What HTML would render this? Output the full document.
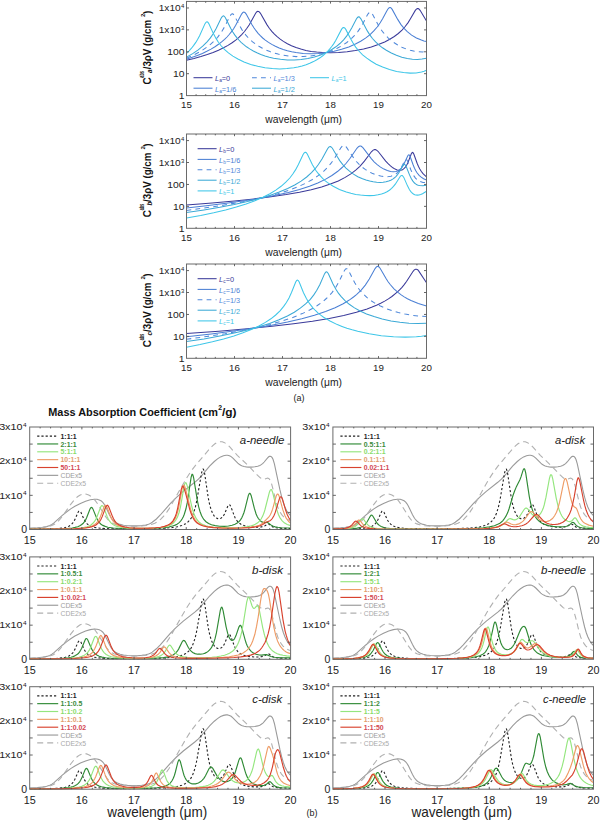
<!DOCTYPE html>
<html><head><meta charset="utf-8"><style>
html,body{margin:0;padding:0;background:#fff;}
svg{display:block;}
</style></head><body>
<svg width="600" height="821" viewBox="0 0 600 821" font-family='"Liberation Sans", sans-serif'>
<rect width="600" height="821" fill="#fff"/>
<clipPath id="ca0"><rect x="186.5" y="1.4" width="240.0" height="94.19999999999999"/></clipPath>
<path clip-path="url(#ca0)" d="M186.5 60.3l7.5 -1.8 6.9 -1.9 6.4 -2.1 5.8 -2.1 5.4 -2.2 5 -2.4 4.5 -2.4 4.1 -2.7 3.6 -2.6 3.2 -2.7 2.8 -2.8 2.8 -3.1 2.4 -3.2 2.4 -3.6 6.2 -11.2 1.1 -1.5 1.1 -0.7 0.7 0.1 0.6 0.3 1.3 1.4 6.6 11.5 2.4 3.6 2.5 3.2 2.6 2.8 2.7 2.5 3.1 2.5 3.2 2.2 4 2.3 4.1 2 4.5 1.8 4.8 1.6 5.1 1.3 5.3 1 5.5 0.7 5.7 0.4 8 0.2 8.2 -0.2 8.5 -0.8 8.3 -1.2 8.2 -1.6 7.7 -2 7 -2.3 6.4 -2.7 5.1 -2.6 4.5 -2.8 4 -3 3.7 -3.4 3.2 -3.6 2.9 -3.9 2.2 -3.6 5 -8.6 1.1 -1.3 1 -0.5 0.6 0 0.7 0.2 1.4 1.5 6.4 10.6" fill="none" stroke="#3a3a9a" stroke-width="1.05"/>
<path clip-path="url(#ca0)" d="M186.5 59.3l10.9 -3.8 5 -2.1 4.4 -2.1 4.2 -2.2 4 -2.4 3.5 -2.4 3.4 -2.6 2.7 -2.3 2.4 -2.4 2.2 -2.5 2.3 -2.8 2.1 -3 2.1 -3.4 5.9 -11.2 1.1 -1.4 0.6 -0.5 0.5 -0.1 0.5 0.1 0.6 0.3 1.3 1.6 5.8 10.7 1.9 3 2.1 2.9 2.1 2.6 2.2 2.4 2.4 2.3 2.6 2.1 3.2 2.3 3.3 2 3.6 1.9 3.8 1.7 4 1.5 4.2 1.2 4.3 1.1 4.3 0.8 7.2 0.8 7.5 0.3 7.7 -0.2 7.9 -0.9 7.8 -1.4 7.5 -1.9 7.2 -2.4 6.6 -2.9 5.3 -2.8 4.8 -3.1 4.3 -3.3 4 -3.9 3.4 -3.9 3 -4.3 2.4 -4 3.9 -7.3 1.3 -2.2 1.1 -1.3 0.9 -0.4 0.5 0.1 0.7 0.3 1.2 1.5 5.5 10 3.3 5.2 3.1 3.8 3.2 3.2 4.3 3.5 4.8 2.9 5 2.1 2.5 0.8 2.6 0.5" fill="none" stroke="#4a7fd4" stroke-width="1.05"/>
<path clip-path="url(#ca0)" d="M186.5 58.2l8.2 -3.7 7.2 -4 6.2 -4.2 2.9 -2.4 2.6 -2.3 4 -4.3 3.5 -4.7 3.7 -6.1 5.2 -10.6 1.2 -1.5 0.6 -0.4 0.5 -0.1 0.5 0 0.6 0.5 1.1 1.5 5.5 10.5 1.9 3.2 1.9 2.8 2.1 2.7 2.1 2.4 2.2 2.2 2.4 2.1 3.1 2.3 3.2 2.1 3.5 2 3.7 1.8 3.8 1.6 4 1.3 4.2 1.2 4.3 0.9 6.9 1.1 7 0.5 7.2 -0.1 7.1 -0.6 7 -1.1 6.9 -1.7 6.6 -2.2 6.1 -2.7 4.9 -2.6 4.7 -3.1 4.1 -3.4 3.7 -3.6 3.2 -3.9 3.1 -4.4 2.2 -3.9 3.7 -7.3 1.3 -2.2 1.1 -1.3 0.9 -0.4 0.5 0.1 0.7 0.4 1.1 1.5 6.1 11.4 2.2 3.6 2.3 3.1 2.4 2.8 2.7 2.8 2.7 2.4 3 2.3 3.9 2.5 4.1 2.2 4.2 1.7 4.3 1.4 4.2 1 4.2 0.5 4 0.1 3.8 -0.3" fill="none" stroke="#4f88da" stroke-width="1.05" stroke-dasharray="4.8 4.2"/>
<path clip-path="url(#ca0)" d="M186.5 57.1l6.2 -3.5 5.5 -3.7 4.8 -4 4.3 -4.3 3.1 -3.7 2.8 -4.2 3.1 -5.4 4.8 -10.1 1.1 -1.6 0.6 -0.5 0.5 -0.2 0.5 0.1 0.5 0.3 1.1 1.4 5.4 10.9 2 3.4 1.9 2.9 2.1 2.7 2.1 2.4 2.2 2.3 2.4 2.1 3 2.4 3.2 2.1 3.6 2.1 3.6 1.8 3.9 1.6 4.2 1.5 4.3 1.3 4.3 1 6.9 1.1 6.9 0.6 6.9 0.1 6.8 -0.5 6.8 -1 6.5 -1.5 6.3 -2.1 5.9 -2.5 4.8 -2.6 4.5 -3 4 -3.3 3.7 -3.7 3 -3.7 2.9 -4.3 2.2 -3.9 4.8 -9.2 1.2 -1.4 0.9 -0.4 0.5 0 0.6 0.5 1.2 1.4 6.4 12.1 2.5 4 2.7 3.6 3.1 3.4 3.2 3 3.7 2.9 3.8 2.5 5 2.7 5.1 2.3 5.4 1.9 5.5 1.3 5.1 0.7 5 0.3 4.6 -0.4 4.5 -0.9" fill="none" stroke="#3ba9d6" stroke-width="1.05"/>
<path clip-path="url(#ca0)" d="M186.5 53.3l2.6 -2.5 2.4 -2.6 2.2 -2.8 2.1 -3 1.9 -3.1 1.9 -3.6 5.3 -11.8 1.1 -1.6 0.5 -0.4 0.5 -0.1 0.5 0.2 0.5 0.4 0.9 1.4 4.5 9.8 2.6 4.8 2.4 3.8 2.5 3.3 3.5 3.9 4 3.5 4.5 3.2 5 2.9 6.1 2.9 6.7 2.5 7 1.9 7.3 1.4 7.3 0.9 7.4 0.3 7.2 -0.3 6.9 -0.8 4.1 -0.8 4.2 -1 4 -1.3 3.7 -1.4 3.7 -1.7 3.3 -1.8 3.2 -2 3.1 -2.3 2.4 -2.1 2.2 -2.1 2.1 -2.4 2.1 -2.6 1.9 -2.7 1.9 -3.2 5.8 -11 1.1 -1.4 0.6 -0.4 0.5 0 1 0.4 1.1 1.4 4.8 9.4 2.3 3.9 2.8 4.4 3.2 3.9 3.7 3.8 4.2 3.4 4.5 3.1 4.9 2.9 6.4 2.9 6.9 2.5 7.1 1.8 7 1.2 6.6 0.5 5.9 -0.2 5.4 -1 2.6 -0.7 2.4 -0.9" fill="none" stroke="#3ec6e8" stroke-width="1.05"/>
<rect x="186.5" y="1.4" width="240.0" height="94.19999999999999" fill="none" stroke="#6a6a6a" stroke-width="1"/>
<path d="M196.10 95.6v-1.4M196.10 1.4v1.4M205.70 95.6v-1.4M205.70 1.4v1.4M215.30 95.6v-1.4M215.30 1.4v1.4M224.90 95.6v-1.4M224.90 1.4v1.4M234.50 95.6v-2.2M234.50 1.4v2.2M244.10 95.6v-1.4M244.10 1.4v1.4M253.70 95.6v-1.4M253.70 1.4v1.4M263.30 95.6v-1.4M263.30 1.4v1.4M272.90 95.6v-1.4M272.90 1.4v1.4M282.50 95.6v-2.2M282.50 1.4v2.2M292.10 95.6v-1.4M292.10 1.4v1.4M301.70 95.6v-1.4M301.70 1.4v1.4M311.30 95.6v-1.4M311.30 1.4v1.4M320.90 95.6v-1.4M320.90 1.4v1.4M330.50 95.6v-2.2M330.50 1.4v2.2M340.10 95.6v-1.4M340.10 1.4v1.4M349.70 95.6v-1.4M349.70 1.4v1.4M359.30 95.6v-1.4M359.30 1.4v1.4M368.90 95.6v-1.4M368.90 1.4v1.4M378.50 95.6v-2.2M378.50 1.4v2.2M388.10 95.6v-1.4M388.10 1.4v1.4M397.70 95.6v-1.4M397.70 1.4v1.4M407.30 95.6v-1.4M407.30 1.4v1.4M416.90 95.6v-1.4M416.90 1.4v1.4M186.5 73.69h2.5M426.5 73.69h-2.5M186.5 51.79h2.5M426.5 51.79h-2.5M186.5 29.88h2.5M426.5 29.88h-2.5M186.5 7.97h2.5M426.5 7.97h-2.5" stroke="#555" stroke-width="0.9" fill="none"/>
<text x="186.50" y="108.00" font-size="9.3" text-anchor="middle" textLength="10.86" lengthAdjust="spacingAndGlyphs" fill="#222">15</text>
<text x="234.50" y="108.00" font-size="9.3" text-anchor="middle" textLength="10.86" lengthAdjust="spacingAndGlyphs" fill="#222">16</text>
<text x="282.50" y="108.00" font-size="9.3" text-anchor="middle" textLength="10.86" lengthAdjust="spacingAndGlyphs" fill="#222">17</text>
<text x="330.50" y="108.00" font-size="9.3" text-anchor="middle" textLength="10.86" lengthAdjust="spacingAndGlyphs" fill="#222">18</text>
<text x="378.50" y="108.00" font-size="9.3" text-anchor="middle" textLength="10.86" lengthAdjust="spacingAndGlyphs" fill="#222">19</text>
<text x="426.50" y="108.00" font-size="9.3" text-anchor="middle" textLength="10.86" lengthAdjust="spacingAndGlyphs" fill="#222">20</text>
<text x="184.40" y="99.00" font-size="9.4" text-anchor="end" textLength="5.75" lengthAdjust="spacingAndGlyphs" fill="#222">1</text>
<text x="184.40" y="77.09" font-size="9.4" text-anchor="end" textLength="11.50" lengthAdjust="spacingAndGlyphs" fill="#222">10</text>
<text x="184.40" y="55.19" font-size="9.4" text-anchor="end" textLength="17.25" lengthAdjust="spacingAndGlyphs" fill="#222">100</text>
<text x="158.70" y="33.28" font-size="9.4" textLength="22.00" lengthAdjust="spacingAndGlyphs" fill="#222">1x10</text>
<text x="180.90" y="30.28" font-size="5.8" textLength="3.30" lengthAdjust="spacingAndGlyphs" fill="#222">3</text>
<text x="158.70" y="11.37" font-size="9.4" textLength="22.00" lengthAdjust="spacingAndGlyphs" fill="#222">1x10</text>
<text x="180.90" y="8.37" font-size="5.8" textLength="3.30" lengthAdjust="spacingAndGlyphs" fill="#222">4</text>
<text x="265.30" y="122.90" font-size="10.5" textLength="76.70" lengthAdjust="spacingAndGlyphs" fill="#222">wavelength (μm)</text>
<g transform="translate(150.8 84.50) rotate(-90)" fill="#111" font-weight="bold"><text x="0" y="0" font-size="10">C</text><text x="6.8" y="-7.0" font-size="7.6" textLength="6.6" lengthAdjust="spacingAndGlyphs">abs</text><text x="11.6" y="1.3" font-size="6.5" font-style="italic">a</text><text x="15.2" y="0" font-size="10" textLength="49.4" lengthAdjust="spacingAndGlyphs">/3ρV (g/cm</text><text x="67.6" y="-6.2" font-size="6">2</text><text x="70.5" y="0" font-size="10">)</text></g>
<clipPath id="ca1"><rect x="186.5" y="134.0" width="240.0" height="94.30000000000001"/></clipPath>
<path clip-path="url(#ca1)" d="M186.5 205l25.6 -2.1 22.3 -2 19.5 -2 17.1 -2.1 15.2 -2.2 13.3 -2.4 11.7 -2.5 10.4 -2.7 8.8 -2.9 7.9 -3.2 6.9 -3.5 6 -3.8 4.5 -3.5 4.2 -3.8 4.5 -5.2 7 -9.3 1.8 -1.7 1.4 -0.5 0.8 0 0.8 0.3 1.8 1.4 7.7 9.8 2.4 2.6 2.4 2.2 2.4 1.9 2.2 1.3 2.1 0.8 1.9 0.4 1.8 -0.1 1.6 -0.5 1.4 -1 1.5 -1.5 1.2 -2 1.2 -2.2 3.5 -9.2 0.8 -1.2 0.3 -0.2 0.3 0.1 0.5 0.4 0.7 1.3 3.3 9.3 1.3 3 1.3 2.4 1.4 2.3 1.6 2.1 1.8 1.9 1.9 1.7" fill="none" stroke="#3a3a9a" stroke-width="1.05"/>
<path clip-path="url(#ca1)" d="M186.5 207.9l21.9 -2.4 19.7 -2.5 17.6 -2.4 15.9 -2.6 14.1 -2.7 12.6 -2.9 11.2 -3 10 -3.2 8.3 -3.3 7.5 -3.5 6.6 -3.9 5.9 -4.2 4.3 -3.8 3.9 -4 4.1 -5.3 6.8 -9.9 1.6 -1.6 0.8 -0.5 0.6 -0.2 0.6 0 0.8 0.3 1.6 1.3 8.4 11 2.8 3.2 3.1 2.8 3.3 2.5 3.4 2 3.4 1.5 3.3 0.9 2.8 0.3 2.5 -0.3 2.3 -0.8 2 -1.4 1.8 -2 1.6 -2.5 4.2 -9.1 0.6 -0.7 0.6 -0.1 0.7 0.7 0.6 1.4 2.8 7.7 1.4 3.5 1.3 2.5 1.4 2.3 1.9 2.4 2.1 1.8 2.4 1.5 2.9 1.3" fill="none" stroke="#4a7fd4" stroke-width="1.05"/>
<path clip-path="url(#ca1)" d="M186.5 210.4l19.4 -2.6 17.4 -2.6 15.9 -2.7 14.2 -2.8 13 -2.9 11.5 -3.1 10.3 -3.2 9.3 -3.5 7.6 -3.5 6.9 -3.7 6.1 -4.1 5.5 -4.4 4 -3.9 3.5 -4.2 3.8 -5.5 6.1 -10.1 1.4 -1.6 0.7 -0.5 0.6 -0.1 0.7 0 0.6 0.3 1.4 1.4 7.3 10.9 2.7 3.5 2.7 2.9 2.9 2.6 3.2 2.4 3.3 2.1 3.6 1.8 2.8 1.2 2.9 0.9 2.9 0.7 2.9 0.5 2.7 0.1 2.4 -0.1 2.3 -0.4 2 -0.7 1.6 -0.8 1.5 -0.9 1.4 -1.2 1.3 -1.4 2.4 -3.5 3.5 -7 0.8 -1 0.7 -0.2 0.8 0.6 0.8 1.5 3 8.1 1.6 3.6 1.5 2.6 1.6 2.2 2.2 2.1 2.4 1.3 2.9 0.9 3.5 0.3" fill="none" stroke="#4f88da" stroke-width="1.05" stroke-dasharray="4.8 4.2"/>
<path clip-path="url(#ca1)" d="M186.5 212.6l17.5 -2.6 15.8 -2.7 14.4 -2.8 13.1 -2.9 11.9 -3 10.6 -3.2 9.4 -3.3 8.5 -3.6 7 -3.5 6.4 -3.9 5.6 -4.1 4.8 -4.3 3.7 -4 3.2 -4.2 3.6 -5.5 5.6 -10.3 1.2 -1.6 1.2 -0.6 0.4 0.1 0.7 0.3 1.3 1.3 5.1 8.8 2.2 3.6 3.1 4 3.2 3.5 3.5 3.1 4 2.9 4.3 2.6 4.7 2.1 3.5 1.2 3.7 1.1 3.5 0.7 3.5 0.5 3.4 0.1 3 -0.1 2.9 -0.5 2.7 -0.7 2.1 -0.9 1.9 -1.1 1.8 -1.3 1.6 -1.5 1.4 -1.7 1.5 -2.1 4 -7.1 0.8 -0.9 0.6 -0.2 0.8 0.6 1 1.6 3.2 8.1 1.7 3.7 1.6 2.6 1.8 2.1 1.1 0.9 1.3 0.8 1.3 0.6 1.4 0.3 3.2 0.2 3.7 -0.6" fill="none" stroke="#3ba9d6" stroke-width="1.05"/>
<path clip-path="url(#ca1)" d="M186.5 218l14.2 -2.6 13 -2.7 11.9 -2.8 10.7 -2.9 9.8 -3.1 8.8 -3.2 8 -3.4 7 -3.6 5.9 -3.6 5.3 -3.8 4.7 -4.1 4 -4.2 3 -4 2.7 -4.1 2.9 -5.4 4.7 -10 1.1 -1.6 0.9 -0.6 0.5 0 0.7 0.4 1.1 1.6 4.9 10.2 3.4 5.7 3.2 4.2 3.7 4 2.4 2.2 2.6 2 5.6 3.7 6.2 3.1 6.9 2.6 4.6 1.3 4.8 1.1 4.8 0.7 4.7 0.4 4.5 0.1 4.3 -0.2 4 -0.6 3.5 -0.9 2.9 -1 2.6 -1.2 2.4 -1.5 2.2 -1.8 1.9 -2 1.8 -2.2 4.9 -7.7 0.8 -0.8 0.8 -0.2 0.5 0.1 0.5 0.4 1 1.4 3.8 8.7 1.9 3.6 1.9 2.6 2 1.7 1.3 0.7 1.2 0.3 1.5 0.1 1.6 -0.2 1.7 -0.5 1.8 -0.7 4 -2.4" fill="none" stroke="#3ec6e8" stroke-width="1.05"/>
<rect x="186.5" y="134.0" width="240.0" height="94.30000000000001" fill="none" stroke="#6a6a6a" stroke-width="1"/>
<path d="M196.10 228.3v-1.4M196.10 134.0v1.4M205.70 228.3v-1.4M205.70 134.0v1.4M215.30 228.3v-1.4M215.30 134.0v1.4M224.90 228.3v-1.4M224.90 134.0v1.4M234.50 228.3v-2.2M234.50 134.0v2.2M244.10 228.3v-1.4M244.10 134.0v1.4M253.70 228.3v-1.4M253.70 134.0v1.4M263.30 228.3v-1.4M263.30 134.0v1.4M272.90 228.3v-1.4M272.90 134.0v1.4M282.50 228.3v-2.2M282.50 134.0v2.2M292.10 228.3v-1.4M292.10 134.0v1.4M301.70 228.3v-1.4M301.70 134.0v1.4M311.30 228.3v-1.4M311.30 134.0v1.4M320.90 228.3v-1.4M320.90 134.0v1.4M330.50 228.3v-2.2M330.50 134.0v2.2M340.10 228.3v-1.4M340.10 134.0v1.4M349.70 228.3v-1.4M349.70 134.0v1.4M359.30 228.3v-1.4M359.30 134.0v1.4M368.90 228.3v-1.4M368.90 134.0v1.4M378.50 228.3v-2.2M378.50 134.0v2.2M388.10 228.3v-1.4M388.10 134.0v1.4M397.70 228.3v-1.4M397.70 134.0v1.4M407.30 228.3v-1.4M407.30 134.0v1.4M416.90 228.3v-1.4M416.90 134.0v1.4M186.5 206.37h2.5M426.5 206.37h-2.5M186.5 184.44h2.5M426.5 184.44h-2.5M186.5 162.51h2.5M426.5 162.51h-2.5M186.5 140.58h2.5M426.5 140.58h-2.5" stroke="#555" stroke-width="0.9" fill="none"/>
<text x="186.50" y="240.70" font-size="9.3" text-anchor="middle" textLength="10.86" lengthAdjust="spacingAndGlyphs" fill="#222">15</text>
<text x="234.50" y="240.70" font-size="9.3" text-anchor="middle" textLength="10.86" lengthAdjust="spacingAndGlyphs" fill="#222">16</text>
<text x="282.50" y="240.70" font-size="9.3" text-anchor="middle" textLength="10.86" lengthAdjust="spacingAndGlyphs" fill="#222">17</text>
<text x="330.50" y="240.70" font-size="9.3" text-anchor="middle" textLength="10.86" lengthAdjust="spacingAndGlyphs" fill="#222">18</text>
<text x="378.50" y="240.70" font-size="9.3" text-anchor="middle" textLength="10.86" lengthAdjust="spacingAndGlyphs" fill="#222">19</text>
<text x="426.50" y="240.70" font-size="9.3" text-anchor="middle" textLength="10.86" lengthAdjust="spacingAndGlyphs" fill="#222">20</text>
<text x="184.40" y="231.70" font-size="9.4" text-anchor="end" textLength="5.75" lengthAdjust="spacingAndGlyphs" fill="#222">1</text>
<text x="184.40" y="209.77" font-size="9.4" text-anchor="end" textLength="11.50" lengthAdjust="spacingAndGlyphs" fill="#222">10</text>
<text x="184.40" y="187.84" font-size="9.4" text-anchor="end" textLength="17.25" lengthAdjust="spacingAndGlyphs" fill="#222">100</text>
<text x="158.70" y="165.91" font-size="9.4" textLength="22.00" lengthAdjust="spacingAndGlyphs" fill="#222">1x10</text>
<text x="180.90" y="162.91" font-size="5.8" textLength="3.30" lengthAdjust="spacingAndGlyphs" fill="#222">3</text>
<text x="158.70" y="143.98" font-size="9.4" textLength="22.00" lengthAdjust="spacingAndGlyphs" fill="#222">1x10</text>
<text x="180.90" y="140.98" font-size="5.8" textLength="3.30" lengthAdjust="spacingAndGlyphs" fill="#222">4</text>
<text x="265.30" y="255.60" font-size="10.5" textLength="76.70" lengthAdjust="spacingAndGlyphs" fill="#222">wavelength (μm)</text>
<g transform="translate(150.8 217.15) rotate(-90)" fill="#111" font-weight="bold"><text x="0" y="0" font-size="10">C</text><text x="6.8" y="-7.0" font-size="7.6" textLength="6.6" lengthAdjust="spacingAndGlyphs">abs</text><text x="11.6" y="1.3" font-size="6.5" font-style="italic">b</text><text x="15.2" y="0" font-size="10" textLength="49.4" lengthAdjust="spacingAndGlyphs">/3ρV (g/cm</text><text x="67.6" y="-6.2" font-size="6">2</text><text x="70.5" y="0" font-size="10">)</text></g>
<clipPath id="ca2"><rect x="186.5" y="264.0" width="240.0" height="94.30000000000001"/></clipPath>
<path clip-path="url(#ca2)" d="M186.5 333.6l32.3 -2.4 28.4 -2.5 24.8 -2.4 21.6 -2.5 18.9 -2.6 16.7 -2.8 14.5 -2.9 12.7 -3.2 10.7 -3.4 5 -1.8 4.4 -1.9 4.2 -2 4 -2.1 3.7 -2.2 3.5 -2.4 5.3 -4.3 2.4 -2.3 2.4 -2.6 2.2 -2.7 2.3 -3.1 6.6 -10.2 1.2 -1.4 1.3 -0.7 0.7 0 0.8 0.2 0.8 0.6 0.9 1.1 7.7 11.6" fill="none" stroke="#3a3a9a" stroke-width="1.05"/>
<path clip-path="url(#ca2)" d="M186.5 336.7l24.8 -2.8 22.3 -2.8 20 -2.9 17.9 -3 16 -3.1 14.3 -3.3 12.6 -3.5 11.2 -3.7 9.5 -3.9 8.1 -4 3.7 -2.2 3.4 -2.1 3.2 -2.4 3 -2.4 4.7 -4.5 4.1 -5 4 -6.1 5.8 -10.4 1.3 -1.6 1.1 -0.6 0.6 0.1 0.7 0.3 1.3 1.4 6.1 10.6 1.9 2.9 2.1 2.8 3.8 4.3 4.3 3.9 2.9 2.2 3 2 3.2 1.9 3.6 1.7 7.3 3 8.2 2.5" fill="none" stroke="#4a7fd4" stroke-width="1.05"/>
<path clip-path="url(#ca2)" d="M186.5 339.3l20.2 -2.8 18.4 -2.8 16.6 -3 14.9 -3.1 13.5 -3.2 12 -3.4 10.7 -3.6 9.5 -3.8 7.8 -3.8 6.9 -4 6.1 -4.4 2.7 -2.4 2.6 -2.4 3.8 -4.3 3.5 -4.9 3.5 -6.1 5 -10.4 1.1 -1.6 0.7 -0.5 0.4 -0.1 0.5 0.1 0.5 0.3 1.1 1.4 4.5 9 1.9 3.6 2.6 4 2.7 3.6 3.1 3.4 3.5 3.3 3.8 3 4.2 2.7 5.1 2.7 5.8 2.6 6.1 2.2 6.5 1.9 6.9 1.6 7.1 1.2 7 0.8 7.2 0.4" fill="none" stroke="#4f88da" stroke-width="1.05" stroke-dasharray="4.8 4.2"/>
<path clip-path="url(#ca2)" d="M186.5 341.6l17.5 -2.7 15.8 -2.9 14.4 -2.9 13.1 -3.1 11.7 -3.2 10.6 -3.4 9.4 -3.6 8.4 -3.8 6.9 -3.7 6 -4.1 5.3 -4.3 4.7 -4.6 3.5 -4.4 3 -4.7 3.1 -5.8 4.6 -10.5 1 -1.5 0.5 -0.4 0.4 -0.1 0.5 0.1 0.5 0.3 1.1 1.7 4.5 9.9 2.9 5.3 2.5 4 2.8 3.4 3.8 4 4.3 3.7 4.8 3.3 5.5 3.1 6.9 3.2 7.5 2.7 8.2 2.4 8.8 1.9 8.9 1.4 9.1 0.9 8.9 0.3 8.6 -0.2" fill="none" stroke="#3ba9d6" stroke-width="1.05"/>
<path clip-path="url(#ca2)" d="M186.5 347.3l13.6 -2.7 12.3 -2.8 11.2 -2.9 10.3 -3 9.1 -3.1 8.3 -3.2 7.6 -3.6 6.5 -3.6 5.5 -3.6 4.8 -3.8 4.3 -4.2 3.7 -4.4 2.7 -3.9 2.6 -4.5 2.5 -5.5 4.2 -10.5 1 -1.6 0.8 -0.4 0.8 0.5 0.9 1.6 4.3 10.7 2.9 5.8 3.2 5.1 3.5 4.4 2.3 2.4 2.5 2.4 2.8 2.2 2.9 2.1 6.4 3.8 7.3 3.6 4.7 1.8 4.9 1.8 5.3 1.6 5.5 1.5 11.5 2.5 12.1 1.9 12.2 1.1 11.7 0.3 5.6 -0.1 5.5 -0.3 5.2 -0.5 5 -0.7" fill="none" stroke="#3ec6e8" stroke-width="1.05"/>
<rect x="186.5" y="264.0" width="240.0" height="94.30000000000001" fill="none" stroke="#6a6a6a" stroke-width="1"/>
<path d="M196.10 358.3v-1.4M196.10 264.0v1.4M205.70 358.3v-1.4M205.70 264.0v1.4M215.30 358.3v-1.4M215.30 264.0v1.4M224.90 358.3v-1.4M224.90 264.0v1.4M234.50 358.3v-2.2M234.50 264.0v2.2M244.10 358.3v-1.4M244.10 264.0v1.4M253.70 358.3v-1.4M253.70 264.0v1.4M263.30 358.3v-1.4M263.30 264.0v1.4M272.90 358.3v-1.4M272.90 264.0v1.4M282.50 358.3v-2.2M282.50 264.0v2.2M292.10 358.3v-1.4M292.10 264.0v1.4M301.70 358.3v-1.4M301.70 264.0v1.4M311.30 358.3v-1.4M311.30 264.0v1.4M320.90 358.3v-1.4M320.90 264.0v1.4M330.50 358.3v-2.2M330.50 264.0v2.2M340.10 358.3v-1.4M340.10 264.0v1.4M349.70 358.3v-1.4M349.70 264.0v1.4M359.30 358.3v-1.4M359.30 264.0v1.4M368.90 358.3v-1.4M368.90 264.0v1.4M378.50 358.3v-2.2M378.50 264.0v2.2M388.10 358.3v-1.4M388.10 264.0v1.4M397.70 358.3v-1.4M397.70 264.0v1.4M407.30 358.3v-1.4M407.30 264.0v1.4M416.90 358.3v-1.4M416.90 264.0v1.4M186.5 336.37h2.5M426.5 336.37h-2.5M186.5 314.44h2.5M426.5 314.44h-2.5M186.5 292.51h2.5M426.5 292.51h-2.5M186.5 270.58h2.5M426.5 270.58h-2.5" stroke="#555" stroke-width="0.9" fill="none"/>
<text x="186.50" y="370.70" font-size="9.3" text-anchor="middle" textLength="10.86" lengthAdjust="spacingAndGlyphs" fill="#222">15</text>
<text x="234.50" y="370.70" font-size="9.3" text-anchor="middle" textLength="10.86" lengthAdjust="spacingAndGlyphs" fill="#222">16</text>
<text x="282.50" y="370.70" font-size="9.3" text-anchor="middle" textLength="10.86" lengthAdjust="spacingAndGlyphs" fill="#222">17</text>
<text x="330.50" y="370.70" font-size="9.3" text-anchor="middle" textLength="10.86" lengthAdjust="spacingAndGlyphs" fill="#222">18</text>
<text x="378.50" y="370.70" font-size="9.3" text-anchor="middle" textLength="10.86" lengthAdjust="spacingAndGlyphs" fill="#222">19</text>
<text x="426.50" y="370.70" font-size="9.3" text-anchor="middle" textLength="10.86" lengthAdjust="spacingAndGlyphs" fill="#222">20</text>
<text x="184.40" y="361.70" font-size="9.4" text-anchor="end" textLength="5.75" lengthAdjust="spacingAndGlyphs" fill="#222">1</text>
<text x="184.40" y="339.77" font-size="9.4" text-anchor="end" textLength="11.50" lengthAdjust="spacingAndGlyphs" fill="#222">10</text>
<text x="184.40" y="317.84" font-size="9.4" text-anchor="end" textLength="17.25" lengthAdjust="spacingAndGlyphs" fill="#222">100</text>
<text x="158.70" y="295.91" font-size="9.4" textLength="22.00" lengthAdjust="spacingAndGlyphs" fill="#222">1x10</text>
<text x="180.90" y="292.91" font-size="5.8" textLength="3.30" lengthAdjust="spacingAndGlyphs" fill="#222">3</text>
<text x="158.70" y="273.98" font-size="9.4" textLength="22.00" lengthAdjust="spacingAndGlyphs" fill="#222">1x10</text>
<text x="180.90" y="270.98" font-size="5.8" textLength="3.30" lengthAdjust="spacingAndGlyphs" fill="#222">4</text>
<text x="265.30" y="385.60" font-size="10.5" textLength="76.70" lengthAdjust="spacingAndGlyphs" fill="#222">wavelength (μm)</text>
<g transform="translate(150.8 347.15) rotate(-90)" fill="#111" font-weight="bold"><text x="0" y="0" font-size="10">C</text><text x="6.8" y="-7.0" font-size="7.6" textLength="6.6" lengthAdjust="spacingAndGlyphs">abs</text><text x="11.6" y="1.3" font-size="6.5" font-style="italic">c</text><text x="15.2" y="0" font-size="10" textLength="49.4" lengthAdjust="spacingAndGlyphs">/3ρV (g/cm</text><text x="67.6" y="-6.2" font-size="6">2</text><text x="70.5" y="0" font-size="10">)</text></g>
<line x1="193.5" y1="77.7" x2="212.5" y2="77.7" stroke="#3a3a9a" stroke-width="1.05"/>
<text x="215.0" y="81.2" font-size="7.4" fill="#3a3a9a"><tspan font-style="italic">L</tspan><tspan font-size="4.8" dy="1">a</tspan><tspan dy="-1">=0</tspan></text>
<line x1="193.5" y1="88.2" x2="212.5" y2="88.2" stroke="#4a7fd4" stroke-width="1.05"/>
<text x="215.0" y="91.7" font-size="7.4" fill="#4a7fd4"><tspan font-style="italic">L</tspan><tspan font-size="4.8" dy="1">a</tspan><tspan dy="-1">=1/6</tspan></text>
<line x1="252" y1="77.7" x2="271" y2="77.7" stroke="#4f88da" stroke-width="1.05" stroke-dasharray="4.8 4.2"/>
<text x="273.5" y="81.2" font-size="7.4" fill="#4f88da"><tspan font-style="italic">L</tspan><tspan font-size="4.8" dy="1">a</tspan><tspan dy="-1">=1/3</tspan></text>
<line x1="252" y1="88.2" x2="271" y2="88.2" stroke="#3ba9d6" stroke-width="1.05"/>
<text x="273.5" y="91.7" font-size="7.4" fill="#3ba9d6"><tspan font-style="italic">L</tspan><tspan font-size="4.8" dy="1">a</tspan><tspan dy="-1">=1/2</tspan></text>
<line x1="310" y1="77.7" x2="329" y2="77.7" stroke="#3ec6e8" stroke-width="1.05"/>
<text x="331.5" y="81.2" font-size="7.4" fill="#3ec6e8"><tspan font-style="italic">L</tspan><tspan font-size="4.8" dy="1">a</tspan><tspan dy="-1">=1</tspan></text>
<line x1="197.6" y1="148.7" x2="216.6" y2="148.7" stroke="#3a3a9a" stroke-width="1.05"/>
<text x="219.1" y="152.2" font-size="7.4" fill="#3a3a9a"><tspan font-style="italic">L</tspan><tspan font-size="4.8" dy="1">b</tspan><tspan dy="-1">=0</tspan></text>
<line x1="197.6" y1="159.4" x2="216.6" y2="159.4" stroke="#4a7fd4" stroke-width="1.05"/>
<text x="219.1" y="162.9" font-size="7.4" fill="#4a7fd4"><tspan font-style="italic">L</tspan><tspan font-size="4.8" dy="1">b</tspan><tspan dy="-1">=1/6</tspan></text>
<line x1="197.6" y1="169.7" x2="216.6" y2="169.7" stroke="#4f88da" stroke-width="1.05" stroke-dasharray="4.8 4.2"/>
<text x="219.1" y="173.2" font-size="7.4" fill="#4f88da"><tspan font-style="italic">L</tspan><tspan font-size="4.8" dy="1">b</tspan><tspan dy="-1">=1/3</tspan></text>
<line x1="197.6" y1="180.2" x2="216.6" y2="180.2" stroke="#3ba9d6" stroke-width="1.05"/>
<text x="219.1" y="183.7" font-size="7.4" fill="#3ba9d6"><tspan font-style="italic">L</tspan><tspan font-size="4.8" dy="1">b</tspan><tspan dy="-1">=1/2</tspan></text>
<line x1="197.6" y1="190.9" x2="216.6" y2="190.9" stroke="#3ec6e8" stroke-width="1.05"/>
<text x="219.1" y="194.4" font-size="7.4" fill="#3ec6e8"><tspan font-style="italic">L</tspan><tspan font-size="4.8" dy="1">b</tspan><tspan dy="-1">=1</tspan></text>
<line x1="197.6" y1="278.7" x2="216.6" y2="278.7" stroke="#3a3a9a" stroke-width="1.05"/>
<text x="219.1" y="282.2" font-size="7.4" fill="#3a3a9a"><tspan font-style="italic">L</tspan><tspan font-size="4.8" dy="1">c</tspan><tspan dy="-1">=0</tspan></text>
<line x1="197.6" y1="289.4" x2="216.6" y2="289.4" stroke="#4a7fd4" stroke-width="1.05"/>
<text x="219.1" y="292.9" font-size="7.4" fill="#4a7fd4"><tspan font-style="italic">L</tspan><tspan font-size="4.8" dy="1">c</tspan><tspan dy="-1">=1/6</tspan></text>
<line x1="197.6" y1="299.7" x2="216.6" y2="299.7" stroke="#4f88da" stroke-width="1.05" stroke-dasharray="4.8 4.2"/>
<text x="219.1" y="303.2" font-size="7.4" fill="#4f88da"><tspan font-style="italic">L</tspan><tspan font-size="4.8" dy="1">c</tspan><tspan dy="-1">=1/3</tspan></text>
<line x1="197.6" y1="310.2" x2="216.6" y2="310.2" stroke="#3ba9d6" stroke-width="1.05"/>
<text x="219.1" y="313.7" font-size="7.4" fill="#3ba9d6"><tspan font-style="italic">L</tspan><tspan font-size="4.8" dy="1">c</tspan><tspan dy="-1">=1/2</tspan></text>
<line x1="197.6" y1="320.9" x2="216.6" y2="320.9" stroke="#3ec6e8" stroke-width="1.05"/>
<text x="219.1" y="324.4" font-size="7.4" fill="#3ec6e8"><tspan font-style="italic">L</tspan><tspan font-size="4.8" dy="1">c</tspan><tspan dy="-1">=1</tspan></text>
<text x="299.00" y="400.50" font-size="9" text-anchor="middle" fill="#222">(a)</text>
<clipPath id="cb0"><rect x="29.7" y="427.0" width="260.90000000000003" height="103.0"/></clipPath>
<path clip-path="url(#cb0)" d="M29.7 528.4l7.6 -0.5 5.5 -0.5 3.9 -0.8 3.1 -1 2.1 -1.1 2.1 -1.6 8.3 -7.5 4.5 -3.6 3.9 -2.9 4.2 -2.6 5.5 -2.9 5.2 -2.2 4.7 -1.4 4.2 -0.6 2.6 0.1 2.1 0.6 1.8 0.9 1.6 1.4 1.3 1.6 1.3 2.1 4.2 8.8 2 3.6 1.3 1.7 1.4 1.3 1.5 1.1 1.9 1 2.6 1 3.4 0.8 3.9 0.5 4.4 0.2 5.2 0 4.7 -0.3 4 -0.6 2.8 -0.8 1.9 -0.8 1.8 -1.1 4.2 -3.3 3.9 -4 10.2 -11.6 6 -6.1 6.8 -6 11.5 -9 3.6 -3.2 3.1 -3.3 8.1 -9.6 4.7 -4.7 3.2 -2.6 3.1 -2 2.9 -1.2 2.6 -0.5 1.3 0 1.3 0.3 1.3 0.5 1.1 0.6 1.8 1.6 4.9 5 1.4 1.1 1.5 1 1.6 0.7 1.8 0.5 2.1 0.4 2.1 0.2 3.1 0 3.4 -0.3 2.9 -0.6 2.1 -0.7 1.5 -0.9 1.6 -1.2 1.3 -1.4 3.2 -3.9 1.3 -1.3 0.7 -0.4 0.8 -0.1 0.8 0.2 0.5 0.4 0.8 1 0.8 1.6 1.3 4.3 5.5 25.9 1.8 7.5 1.6 5.5 1.6 4.3 1.8 3.8 1.8 2.7 2.1 2.2" fill="none" stroke="#9a9a9a" stroke-width="1.1"/>
<path clip-path="url(#cb0)" d="M29.7 528.4l9.9 -0.6 6.8 -0.8 4.7 -1.2 1.8 -0.7 1.9 -1 2.8 -2.3 2.9 -3.2 2.9 -3.8 7.3 -10.5 2.4 -3 2 -2.3 2.4 -2.2 2.3 -1.6 2.4 -0.9 2.1 -0.4 2.3 0.3 2.1 0.8 2.1 1.3 2.4 2 2.1 2.4 2.3 3.1 7.3 11.8 2.4 3.3 1.5 1.8 1.6 1.3 1.6 1 1.8 0.9 3.7 1.1 4.4 0.8 5.7 0.4 6.8 0.1 6.8 -0.3 5.8 -0.6 4.4 -0.9 3.4 -1.2 3.1 -1.8 2.9 -2.3 2.9 -3 3.1 -4.1 2.4 -3.5 2.8 -4.8 10 -17.8 4.4 -7.6 4.4 -6.9 4.5 -5.9 14.1 -16.5 3.1 -3.3 2.1 -1.8 2.1 -1.3 1.8 -0.7 1.8 -0.3 1.9 0.1 1.8 0.6 1.8 1.1 2.1 1.6 2.1 2.1 7.3 8.1 10.5 9.9 9.6 10 2.9 2.6 1.6 1 1.3 0.5 1.5 -0.2 2.9 -1 1.1 0.3 0.7 0.7 1.1 1.7 1 2.8 1.3 4.8 3.4 14 1.6 4.8 1.6 3.7 2.1 3.5 1.3 1.6 1.3 1.3 1.3 1 1.5 1 1.9 0.8 1.8 0.6" fill="none" stroke="#b0b0b0" stroke-width="1.1" stroke-dasharray="6 4"/>
<path clip-path="url(#cb0)" d="M29.7 529.3l16.2 -0.2 10.2 -0.4 6.5 -0.7 2.6 -0.5 2.1 -0.6 1.6 -0.7 1.5 -1 1.3 -1.1 1.1 -1.1 1 -1.5 1.1 -1.9 3.1 -7.1 0.8 -1.2 0.8 -0.3 0.5 0.3 0.8 1 2.6 5.9 1.3 2.5 1.3 1.9 1.3 1.5 1.8 1.4 2.1 1 2.6 0.8 3.2 0.6 7.6 0.7 11.4 0.3 19.4 0 18.3 -0.3 10.1 -0.4 7.6 -0.6 5.8 -0.8 4.4 -1.2 2.1 -0.9 1.8 -0.9 1.6 -1.1 1.5 -1.5 1.4 -1.5 1.3 -2 1 -1.9 1 -2.5 1.9 -5.8 1.5 -6.9 4.7 -27.4 0.8 -2.9 0.5 -1 0.3 -0.1 0.3 0.1 0.5 1.1 0.8 3.4 3.4 23 1 5.5 1.1 4.4 1.3 4 1.3 3 1.5 2.4 1.9 1.8 1.5 0.7 1.6 0.2 1.6 -0.5 1.3 -1 1.3 -1.6 1 -1.8 3.4 -8 0.8 -1 0.5 -0.3 0.8 0.5 0.8 1.4 3.4 9.2 1 2.3 1.1 1.8 1.3 1.7 1.6 1.5 1.8 1.3 2.1 0.9 3.1 1 3.7 0.6 4.4 0.4 4.4 0 2.6 -0.3 2.1 -0.5 1.6 -0.7 2.4 -1.4 1 -0.3 1 0.4 2.1 1.6 1.3 0.9 1.3 0.5 1.6 0.4 5.2 0.5 9.7 0.2" fill="none" stroke="#222222" stroke-width="1.1" stroke-dasharray="2.2 2.1"/>
<path clip-path="url(#cb0)" d="M29.7 529.3l21.7 -0.2 12.8 -0.4 8.1 -0.7 2.8 -0.6 2.7 -0.7 2 -0.9 1.6 -1 1.6 -1.3 1.3 -1.6 1.3 -2 1 -2.2 3.4 -8.7 0.8 -1.2 0.8 -0.4 0.5 0.3 0.8 1.2 3.7 9.1 1.3 2.5 1.3 1.8 1.5 1.7 2.1 1.4 2.4 1 2.6 0.8 5.5 0.8 7.8 0.5 11.8 0.2 13.5 -0.1 9.7 -0.3 7.3 -0.6 5.5 -0.7 4.4 -1.2 1.9 -0.7 1.8 -0.9 1.6 -1.1 1.3 -1.2 1.3 -1.6 1 -1.5 1.1 -2 1 -2.6 1.6 -5.2 1.3 -6.1 3.9 -25.6 0.8 -2.7 0.2 -0.3 0.3 0 0.5 0.8 0.8 3.1 3.7 22.6 1.3 6.1 1.3 4.6 1.5 4 1.1 2 1 1.6 2.4 2.6 2.6 1.8 2.9 1.2 3.6 0.9 4.5 0.6 4.7 0.1 4.1 -0.3 3.7 -0.7 2.9 -1 2.6 -1.5 1.6 -1.4 1.3 -1.6 1.3 -2.1 1 -2.2 1.1 -2.8 1 -3.4 3.4 -13.7 0.8 -1.8 0.5 -0.5 0.3 0 0.5 0.5 0.8 1.9 3.1 12.5 1.8 5.8 1.1 2.4 1 1.9 1.1 1.4 1.3 1.3 1.3 0.9 1.3 0.5 1.3 0.1 2.1 -0.1 1 0.2 0.8 0.4 3.4 2.6 1.6 0.7 1.8 0.6 2.6 0.4 3.4 0.4 9.4 0.3" fill="none" stroke="#2f8a35" stroke-width="1.15"/>
<path clip-path="url(#cb0)" d="M29.7 529.3l26.6 -0.2 15.2 -0.4 9.4 -0.7 3.4 -0.6 2.9 -0.7 2.3 -1 1.8 -1 1.6 -1.4 1.6 -1.8 1.3 -2.1 1 -2.1 3.9 -10.3 0.8 -1.2 0.5 -0.2 0.8 0.4 0.8 1.3 3.7 9.6 1 2.2 1.3 2.1 1.6 1.9 1.5 1.3 1.9 1.1 2.3 0.9 3.9 0.9 5.3 0.7 6.8 0.3 8.6 0.1 8.9 -0.2 7 -0.4 5.5 -0.6 4.2 -1 3.4 -1.3 1.5 -0.9 1.3 -1 1.3 -1.4 1.1 -1.3 1.8 -3.4 1.6 -4.4 1.3 -5.2 3.9 -22.1 0.8 -2.2 0.5 -0.4 0.3 0.1 0.5 0.8 0.8 2.3 4.7 21.2 1.3 4.6 1.3 3.5 1.8 3.6 2.1 2.7 2.4 2 2.8 1.5 2.1 0.8 2.4 0.6 5.7 0.9 7.9 0.5 9.6 0.1 8.4 -0.3 6.8 -0.7 4.9 -1 2.1 -0.7 1.8 -0.8 2.4 -1.5 1.8 -1.7 1.6 -2.1 1.6 -2.9 1.3 -3.3 1 -3.3 4.4 -17.3 0.8 -2 0.6 -0.6 0.2 -0.1 0.3 0.1 0.5 0.6 0.8 2 4.2 17.4 1.5 4.6 1.6 3.4 2.1 3 2.3 2.2 2.9 1.7 3.4 1.1" fill="none" stroke="#94e67e" stroke-width="1.15"/>
<path clip-path="url(#cb0)" d="M29.7 529.3l28.2 -0.2 16.2 -0.4 9.9 -0.7 3.4 -0.6 2.9 -0.7 2.3 -0.9 2.1 -1.3 1.6 -1.3 1.6 -1.9 1.3 -2.1 1.3 -2.7 3.4 -9.2 0.8 -1.4 0.7 -0.6 0.8 0.5 0.8 1.3 3.7 9.6 1 2.2 1.3 2.1 1.6 1.9 1.5 1.3 1.9 1.2 2.1 0.8 3.6 1 4.5 0.6 6 0.4 7.3 0.1 7.8 -0.1 6.8 -0.4 5.2 -0.6 4.2 -0.9 3.4 -1.3 1.6 -1 1.3 -1 2.1 -2.3 1.8 -3.3 1.6 -4.2 1.3 -5.1 3.6 -19.8 0.8 -2.5 0.3 -0.4 0.5 -0.3 0.2 0.1 0.6 0.8 1 2.8 4.7 19.3 1.3 4.3 1.6 4 1.8 3.2 2.1 2.5 2.6 1.9 3.1 1.5 4.8 1.2 6 0.7 8.3 0.5 10.5 0.1 9.6 -0.2 7.6 -0.5 5.5 -0.8 2.3 -0.6 1.9 -0.7 2.3 -1.2 1.8 -1.5 5.3 -5.3 1.5 -2.2 1.3 -2.8 1.1 -3 3.6 -13.2 0.8 -1.6 0.5 -0.4 0.3 0 0.5 0.4 0.8 1.7 3.7 13.6 2.1 5.8 1.3 2.6 1.3 1.9 1.5 1.8 1.6 1.2" fill="none" stroke="#ee9c66" stroke-width="1.15"/>
<path clip-path="url(#cb0)" d="M29.7 529.3l29 -0.2 16.4 -0.4 10.2 -0.7 3.7 -0.6 2.9 -0.7 2.3 -0.8 2.1 -1.2 1.8 -1.6 1.6 -1.8 1.3 -2.1 1.3 -2.8 3.4 -9.1 0.8 -1.4 0.8 -0.6 0.7 0.4 0.8 1.3 3.7 9.6 1 2.2 1.3 2.1 1.3 1.7 1.6 1.4 1.8 1.2 2.1 0.9 3.4 0.9 4.2 0.7 5.5 0.4 6.5 0.1 7.6 -0.1 6.5 -0.3 5.2 -0.6 4 -0.8 3.4 -1.3 1.5 -0.9 1.3 -0.9 1.3 -1.3 1.1 -1.4 1.8 -3.2 1.3 -3.5 1.3 -4.9 3.7 -19.3 0.8 -2.6 0.2 -0.4 0.5 -0.4 0.6 0.4 0.5 0.9 1 2.8 1.3 4.7 3.7 14.5 1.3 4 1.6 3.7 1.8 3 2.3 2.5 2.7 1.7 3.1 1.3 4.7 1.1 6 0.7 8.1 0.4 10.4 0.2 10.5 -0.2 8.1 -0.4 5.7 -0.8 4.2 -1.1 2.4 -1.1 3.9 -2.6 3.4 -1.3 1.3 -1 1 -1.2 1.6 -2.7 1.3 -3.2 4.2 -13.9 0.8 -1.6 0.5 -0.4 0.2 0 0.8 0.7 0.8 1.8 3.1 10.8 1.6 4.5 1.6 3.3 1.8 2.7" fill="none" stroke="#d8422e" stroke-width="1.15"/>
<rect x="29.7" y="427.0" width="260.90000000000003" height="102.5" fill="none" stroke="#6a6a6a" stroke-width="1"/>
<path d="M40.14 529.5v-1.4M40.14 427.0v1.4M50.57 529.5v-1.4M50.57 427.0v1.4M61.01 529.5v-1.4M61.01 427.0v1.4M71.44 529.5v-1.4M71.44 427.0v1.4M81.88 529.5v-2.4M81.88 427.0v2.4M92.32 529.5v-1.4M92.32 427.0v1.4M102.75 529.5v-1.4M102.75 427.0v1.4M113.19 529.5v-1.4M113.19 427.0v1.4M123.62 529.5v-1.4M123.62 427.0v1.4M134.06 529.5v-2.4M134.06 427.0v2.4M144.50 529.5v-1.4M144.50 427.0v1.4M154.93 529.5v-1.4M154.93 427.0v1.4M165.37 529.5v-1.4M165.37 427.0v1.4M175.80 529.5v-1.4M175.80 427.0v1.4M186.24 529.5v-2.4M186.24 427.0v2.4M196.68 529.5v-1.4M196.68 427.0v1.4M207.11 529.5v-1.4M207.11 427.0v1.4M217.55 529.5v-1.4M217.55 427.0v1.4M227.98 529.5v-1.4M227.98 427.0v1.4M238.42 529.5v-2.4M238.42 427.0v2.4M248.86 529.5v-1.4M248.86 427.0v1.4M259.29 529.5v-1.4M259.29 427.0v1.4M269.73 529.5v-1.4M269.73 427.0v1.4M280.16 529.5v-1.4M280.16 427.0v1.4M29.7 512.42h3M290.6 512.42h-3M29.7 495.33h3M290.6 495.33h-3M29.7 478.25h3M290.6 478.25h-3M29.7 461.17h3M290.6 461.17h-3M29.7 444.08h3M290.6 444.08h-3" stroke="#555" stroke-width="0.9" fill="none"/>
<text x="29.70" y="544.00" font-size="10.8" text-anchor="middle" fill="#222">15</text>
<text x="81.88" y="544.00" font-size="10.8" text-anchor="middle" fill="#222">16</text>
<text x="134.06" y="544.00" font-size="10.8" text-anchor="middle" fill="#222">17</text>
<text x="186.24" y="544.00" font-size="10.8" text-anchor="middle" fill="#222">18</text>
<text x="238.42" y="544.00" font-size="10.8" text-anchor="middle" fill="#222">19</text>
<text x="290.60" y="544.00" font-size="10.8" text-anchor="middle" fill="#222">20</text>
<text x="27.20" y="533.00" font-size="10.5" text-anchor="end" fill="#222">0</text>
<text x="22.50" y="498.63" font-size="9.8" text-anchor="end" textLength="23.38" lengthAdjust="spacingAndGlyphs" fill="#222">1x10</text>
<text x="22.90" y="495.13" font-size="6" textLength="3.60" lengthAdjust="spacingAndGlyphs" fill="#222">4</text>
<text x="22.50" y="464.47" font-size="9.8" text-anchor="end" textLength="23.38" lengthAdjust="spacingAndGlyphs" fill="#222">2x10</text>
<text x="22.90" y="460.97" font-size="6" textLength="3.60" lengthAdjust="spacingAndGlyphs" fill="#222">4</text>
<text x="22.50" y="430.30" font-size="9.8" text-anchor="end" textLength="23.38" lengthAdjust="spacingAndGlyphs" fill="#222">3x10</text>
<text x="22.90" y="426.80" font-size="6" textLength="3.60" lengthAdjust="spacingAndGlyphs" fill="#222">4</text>
<text x="284.40" y="443.60" font-size="11.8" text-anchor="end" font-style="italic" textLength="44.60" lengthAdjust="spacingAndGlyphs" fill="#222">a-needle</text>
<line x1="37.2" y1="436.10" x2="58.2" y2="436.10" stroke="#222222" stroke-width="1.15" stroke-dasharray="2.2 2"/>
<text x="60.50" y="438.70" font-size="7.2" font-weight="bold" textLength="16.11" lengthAdjust="spacingAndGlyphs" fill="#222">1:1:1</text>
<line x1="37.2" y1="443.95" x2="58.2" y2="443.95" stroke="#2f8a35" stroke-width="1.15"/>
<text x="60.50" y="446.55" font-size="7.2" font-weight="bold" textLength="16.11" lengthAdjust="spacingAndGlyphs" fill="#3a8a3a">2:1:1</text>
<line x1="37.2" y1="451.80" x2="58.2" y2="451.80" stroke="#94e67e" stroke-width="1.15"/>
<text x="60.50" y="454.40" font-size="7.2" font-weight="bold" textLength="16.11" lengthAdjust="spacingAndGlyphs" fill="#88dc6a">5:1:1</text>
<line x1="37.2" y1="459.65" x2="58.2" y2="459.65" stroke="#ee9c66" stroke-width="1.15"/>
<text x="60.50" y="462.25" font-size="7.2" font-weight="bold" textLength="19.95" lengthAdjust="spacingAndGlyphs" fill="#e39d6e">10:1:1</text>
<line x1="37.2" y1="467.50" x2="58.2" y2="467.50" stroke="#d8422e" stroke-width="1.15"/>
<text x="60.50" y="470.10" font-size="7.2" font-weight="bold" textLength="19.95" lengthAdjust="spacingAndGlyphs" fill="#d24652">50:1:1</text>
<line x1="37.2" y1="475.35" x2="58.2" y2="475.35" stroke="#9a9a9a" stroke-width="1.15"/>
<text x="60.50" y="477.95" font-size="7.2" textLength="21.67" lengthAdjust="spacingAndGlyphs" fill="#9c9c9c">CDEx5</text>
<line x1="37.2" y1="483.20" x2="58.2" y2="483.20" stroke="#b0b0b0" stroke-width="1.15" stroke-dasharray="6 4"/>
<text x="60.50" y="485.80" font-size="7.2" textLength="25.47" lengthAdjust="spacingAndGlyphs" fill="#a8a8a8">CDE2x5</text>
<clipPath id="cb1"><rect x="332.9" y="427.0" width="260.6" height="103.0"/></clipPath>
<path clip-path="url(#cb1)" d="M332.9 528.4l7.6 -0.5 5.4 -0.5 4 -0.8 3.1 -1 2.1 -1.1 2.1 -1.6 8.3 -7.5 4.4 -3.6 4 -2.9 4.1 -2.6 5.5 -2.9 5.2 -2.2 4.7 -1.4 4.2 -0.6 2.6 0.1 2.1 0.6 1.8 0.9 1.6 1.4 1.3 1.6 1.3 2.1 4.2 8.8 2 3.6 1.4 1.7 1.3 1.3 1.5 1.1 1.8 1 2.7 1 3.3 0.8 4 0.5 4.4 0.2 5.2 0 4.7 -0.3 3.9 -0.6 2.9 -0.8 1.8 -0.8 1.8 -1.1 4.2 -3.3 3.9 -4 10.2 -11.6 6 -6.1 6.8 -6 11.5 -9 3.6 -3.2 3.1 -3.3 8.1 -9.6 4.7 -4.7 3.2 -2.6 3.1 -2 2.9 -1.2 2.6 -0.5 1.3 0 1.3 0.3 1.3 0.5 1 0.6 1.8 1.6 5 5 1.3 1.1 1.6 1 1.5 0.7 1.9 0.5 2.1 0.4 2 0.2 3.2 0 3.4 -0.3 2.8 -0.6 2.1 -0.7 1.6 -0.9 1.5 -1.2 1.4 -1.4 3.1 -3.9 1.3 -1.3 0.8 -0.4 0.8 -0.1 0.7 0.2 0.6 0.4 0.7 1 0.8 1.6 1.3 4.3 5.5 25.9 1.8 7.5 1.6 5.5 1.6 4.3 1.8 3.8 1.8 2.7 2.1 2.2" fill="none" stroke="#9a9a9a" stroke-width="1.1"/>
<path clip-path="url(#cb1)" d="M332.9 528.4l9.9 -0.6 6.8 -0.8 4.7 -1.2 1.8 -0.7 1.8 -1 2.9 -2.3 2.9 -3.2 2.9 -3.8 7.3 -10.5 2.3 -3 2.1 -2.3 2.3 -2.2 2.4 -1.6 2.3 -0.9 2.1 -0.4 2.4 0.3 2.1 0.8 2 1.3 2.4 2 2.1 2.4 2.3 3.1 7.3 11.8 2.4 3.3 1.5 1.8 1.6 1.3 1.6 1 1.8 0.9 3.6 1.1 4.5 0.8 5.7 0.4 6.8 0.1 6.8 -0.3 5.7 -0.6 4.5 -0.9 3.4 -1.2 3.1 -1.8 2.9 -2.3 2.8 -3 3.2 -4.1 2.3 -3.5 2.9 -4.8 9.9 -17.8 4.4 -7.6 4.5 -6.9 4.4 -5.9 14.1 -16.5 3.1 -3.3 2.1 -1.8 2.1 -1.3 1.8 -0.7 1.8 -0.3 1.9 0.1 1.8 0.6 1.8 1.1 2.1 1.6 2.1 2.1 7.3 8.1 10.4 9.9 9.7 10 2.8 2.6 1.6 1 1.3 0.5 1.6 -0.2 2.8 -1 1.1 0.3 0.8 0.7 1 1.7 1.1 2.8 1.3 4.8 3.4 14 1.5 4.8 1.6 3.7 2.1 3.5 1.3 1.6 1.3 1.3 1.3 1 1.5 1 1.9 0.8 1.8 0.6" fill="none" stroke="#b0b0b0" stroke-width="1.1" stroke-dasharray="6 4"/>
<path clip-path="url(#cb1)" d="M332.9 529.3l16.2 -0.2 10.1 -0.4 6.6 -0.7 2.6 -0.5 2.1 -0.6 1.5 -0.7 1.6 -1 1.3 -1.1 1 -1.1 1.1 -1.5 1 -1.9 3.2 -7.1 0.7 -1.2 0.8 -0.3 0.5 0.3 0.8 1 2.6 5.9 1.3 2.5 1.3 1.9 1.4 1.5 1.8 1.4 2.1 1 2.6 0.8 3.1 0.6 7.6 0.7 11.4 0.3 19.3 0 18.3 -0.3 10.2 -0.4 7.5 -0.6 5.8 -0.8 4.4 -1.2 2.1 -0.9 1.8 -0.9 1.6 -1.1 1.6 -1.5 1.3 -1.5 1.3 -2 1 -1.9 1.1 -2.5 1.8 -5.8 1.6 -6.9 4.6 -27.4 0.8 -2.9 0.6 -1 0.2 -0.1 0.3 0.1 0.5 1.1 0.8 3.4 3.4 23 1 5.5 1.1 4.4 1.3 4 1.3 3 1.5 2.4 1.9 1.8 1.5 0.7 1.6 0.2 1.6 -0.5 1.3 -1 1.3 -1.6 1 -1.8 3.4 -8 0.8 -1 0.5 -0.3 0.8 0.5 0.8 1.4 3.4 9.2 1 2.3 1 1.8 1.3 1.7 1.6 1.5 1.8 1.3 2.1 0.9 3.2 1 3.6 0.6 4.4 0.4 4.5 0 2.6 -0.3 2.1 -0.5 1.5 -0.7 2.4 -1.4 1 -0.3 1.1 0.4 2.1 1.6 1.3 0.9 1.3 0.5 1.5 0.4 5.2 0.5 9.7 0.2" fill="none" stroke="#222222" stroke-width="1.1" stroke-dasharray="2.2 2.1"/>
<path clip-path="url(#cb1)" d="M332.9 529.2l11.5 -0.2 7.5 -0.3 5.3 -0.6 3.6 -0.9 2.6 -1.3 2.1 -1.8 1.8 -2.6 2.9 -5.2 0.8 -1 0.5 -0.2 0.5 0.1 0.8 0.8 3.7 6.4 1.3 1.6 1.5 1.4 1.9 1.1 2.3 0.9 2.9 0.6 3.9 0.5 9.6 0.4 16.2 0.2 26.9 -0.1 21.1 -0.3 11 -0.4 8.1 -0.6 6.2 -0.8 5 -1.2 3.9 -1.6 1.6 -0.9 1.5 -1.2 1.3 -1.2 1.3 -1.6 2.1 -3.3 1.6 -3.3 1.3 -3.6 3.9 -13.2 1.6 -4.6 2 -4.8 3.4 -6.7 1.1 -2.8 2.1 -6.8 0.5 -1 0.5 -0.4 0.5 0.5 0.3 0.6 0.8 3 3.6 23.8 1.1 5.5 1.3 5.5 1.5 4.8 1.6 3.4 1.8 2.8 2.4 2.5 2.6 1.9 3.1 1.4 3.9 1.2 4.5 0.8 3.6 0.3 3.7 0.2 3.1 -0.1 2.3 -0.3 1.6 -0.5 1.3 -0.6 1.1 -0.8 2 -1.9 1.1 -0.4 0.5 0.2 0.5 0.3 2.1 2.4 1.1 0.9 1.3 0.7 1.3 0.5 2.1 0.5 2.8 0.3 8.9 0.3" fill="none" stroke="#2f8a35" stroke-width="1.15"/>
<path clip-path="url(#cb1)" d="M332.9 529.2l7.8 -0.2 5.5 -0.3 3.9 -0.5 2.9 -0.8 2.1 -0.9 1.8 -1.4 1.6 -1.8 2.6 -3.7 0.8 -0.7 0.5 -0.2 0.5 0.1 0.8 0.6 2.6 3.7 1.3 1.6 1.3 1.1 1.3 0.8 1.8 0.8 2.4 0.6 2.8 0.4 4 0.3 10.4 0.4 18.3 0.1 32 -0.1 24.3 -0.2 12 -0.3 8.6 -0.4 6.3 -0.6 4.7 -0.9 3.1 -1 2.3 -1.4 1.9 -1.5 2.8 -3.1 1.3 -1 1.3 -0.1 2.7 1 1.3 0.2 1.3 -0.2 1.3 -0.6 1.3 -1.1 1.3 -1.5 4.4 -6.9 0.8 -0.9 0.8 -0.4 0.8 0 1 0.5 1 1.1 3.4 4.4 1.3 1.1 1.1 0.7 1.3 0.4 1.3 -0.1 1.3 -0.5 1.3 -1 1.3 -1.6 1.3 -2.4 1.1 -2.5 1 -3.3 1.8 -7.8 3.4 -18.6 0.8 -2.8 0.5 -1 0.3 -0.1 0.2 0 0.6 0.7 1 3.7 3.4 19 2.1 8.9 1 3.3 1.3 3.2 1.3 2.5 1.3 1.8 1.6 1.7 1.6 1.1 1.5 0.7 1.6 0.3 1 -0.2 1.1 -0.5 1 -0.9 1.6 -1.8 0.5 -0.3 0.5 0 0.8 0.6 2.9 4.6 1.3 1.3 1.3 0.9 1.8 0.8 2.6 0.6 3.4 0.5 4.2 0.4" fill="none" stroke="#94e67e" stroke-width="1.15"/>
<path clip-path="url(#cb1)" d="M332.9 529.2l6.5 -0.2 4.7 -0.4 3.4 -0.4 2.6 -0.7 1.8 -0.8 1.6 -1.1 1.6 -1.6 2.6 -3.3 0.8 -0.6 0.5 -0.1 0.5 0.2 0.8 0.7 2.3 3 1.3 1.3 2.4 1.6 1.8 0.8 2.1 0.5 6.3 0.7 7.8 0.3 12.5 0.1 49.6 -0.1 29.2 -0.3 8.6 -0.3 6.3 -0.4 4.9 -0.6 3.7 -1 2.6 -1.4 3.4 -2.5 1.3 -0.5 1.3 0.1 3.4 1.8 2.3 0.7 2.6 -0.1 2.9 -0.7 2.3 -1.3 2.1 -1.7 2.1 -2.4 3.9 -5.6 1.1 -0.9 1 -0.4 0.8 0.1 1 0.7 4.7 5.6 1.3 1.2 1.3 1 1.6 0.8 1.8 0.5 1.6 0.1 1.8 -0.2 1.6 -0.5 1.3 -0.6 2.3 -1.8 2.1 -2.7 1.9 -3.5 1.5 -4.3 1.6 -5.8 4.2 -20.4 0.7 -2.4 0.6 -0.8 0.2 -0.1 0.3 0 0.5 0.6 1.1 3 3.1 14.6 1.8 6.5 0.8 1.9 0.8 1.2 0.8 0.7 1.3 0.7 0.7 0.9 0.8 1.7 2.1 5.8 1.3 2.7 1.1 1.6 1 1.2 1.3 1.1 1.3 0.9 3.4 1.5 4.7 1.2" fill="none" stroke="#ee9c66" stroke-width="1.15"/>
<path clip-path="url(#cb1)" d="M332.9 529.1l9.4 -0.5 2.9 -0.4 2.3 -0.6 1.6 -0.6 1.5 -1 1.3 -1.2 2.7 -3 0.7 -0.5 0.6 -0.1 0.5 0.1 0.8 0.5 2.6 2.9 1.3 1.2 1.3 0.8 1.3 0.6 2.1 0.7 2.6 0.4 8.1 0.6 18.7 0.2 40.5 0 31.5 -0.2 17 -0.3 6.8 -0.5 4.7 -0.7 2.8 -0.9 4.2 -2.4 1.6 -0.4 1.3 0.3 3.1 1.5 2.1 0.7 2.6 0.4 3.1 -0.1 2.7 -0.3 2.6 -0.6 2.1 -0.7 2 -1.1 1.9 -1.3 1.5 -1.4 5 -5.7 1 -0.8 1.1 -0.2 0.8 0.1 1 0.7 5.2 5.5 1.8 1.4 1.9 1 2.3 0.8 2.6 0.4 2.9 0.1 2.9 -0.4 2 -0.5 1.9 -0.8 1.5 -0.9 1.6 -1.1 1.3 -1.3 1.3 -1.7 2.1 -3.7 1.6 -4.1 1.5 -5.6 1.6 -7.5 2.6 -15 0.8 -3 0.5 -1 0.3 0 0.2 0.1 0.6 1.1 0.7 2.8 3.7 18.6 1.3 5.4 1.3 4.4 1.6 4 1.5 3 1.9 2.5 2.3 2.3" fill="none" stroke="#d8422e" stroke-width="1.15"/>
<rect x="332.9" y="427.0" width="260.6" height="102.5" fill="none" stroke="#6a6a6a" stroke-width="1"/>
<path d="M343.32 529.5v-1.4M343.32 427.0v1.4M353.75 529.5v-1.4M353.75 427.0v1.4M364.17 529.5v-1.4M364.17 427.0v1.4M374.60 529.5v-1.4M374.60 427.0v1.4M385.02 529.5v-2.4M385.02 427.0v2.4M395.44 529.5v-1.4M395.44 427.0v1.4M405.87 529.5v-1.4M405.87 427.0v1.4M416.29 529.5v-1.4M416.29 427.0v1.4M426.72 529.5v-1.4M426.72 427.0v1.4M437.14 529.5v-2.4M437.14 427.0v2.4M447.56 529.5v-1.4M447.56 427.0v1.4M457.99 529.5v-1.4M457.99 427.0v1.4M468.41 529.5v-1.4M468.41 427.0v1.4M478.84 529.5v-1.4M478.84 427.0v1.4M489.26 529.5v-2.4M489.26 427.0v2.4M499.68 529.5v-1.4M499.68 427.0v1.4M510.11 529.5v-1.4M510.11 427.0v1.4M520.53 529.5v-1.4M520.53 427.0v1.4M530.96 529.5v-1.4M530.96 427.0v1.4M541.38 529.5v-2.4M541.38 427.0v2.4M551.80 529.5v-1.4M551.80 427.0v1.4M562.23 529.5v-1.4M562.23 427.0v1.4M572.65 529.5v-1.4M572.65 427.0v1.4M583.08 529.5v-1.4M583.08 427.0v1.4M332.9 512.42h3M593.5 512.42h-3M332.9 495.33h3M593.5 495.33h-3M332.9 478.25h3M593.5 478.25h-3M332.9 461.17h3M593.5 461.17h-3M332.9 444.08h3M593.5 444.08h-3" stroke="#555" stroke-width="0.9" fill="none"/>
<text x="332.90" y="544.00" font-size="10.8" text-anchor="middle" fill="#222">15</text>
<text x="385.02" y="544.00" font-size="10.8" text-anchor="middle" fill="#222">16</text>
<text x="437.14" y="544.00" font-size="10.8" text-anchor="middle" fill="#222">17</text>
<text x="489.26" y="544.00" font-size="10.8" text-anchor="middle" fill="#222">18</text>
<text x="541.38" y="544.00" font-size="10.8" text-anchor="middle" fill="#222">19</text>
<text x="593.50" y="544.00" font-size="10.8" text-anchor="middle" fill="#222">20</text>
<text x="330.40" y="533.00" font-size="10.5" text-anchor="end" fill="#222">0</text>
<text x="325.70" y="498.63" font-size="9.8" text-anchor="end" textLength="23.38" lengthAdjust="spacingAndGlyphs" fill="#222">1x10</text>
<text x="326.10" y="495.13" font-size="6" textLength="3.60" lengthAdjust="spacingAndGlyphs" fill="#222">4</text>
<text x="325.70" y="464.47" font-size="9.8" text-anchor="end" textLength="23.38" lengthAdjust="spacingAndGlyphs" fill="#222">2x10</text>
<text x="326.10" y="460.97" font-size="6" textLength="3.60" lengthAdjust="spacingAndGlyphs" fill="#222">4</text>
<text x="325.70" y="430.30" font-size="9.8" text-anchor="end" textLength="23.38" lengthAdjust="spacingAndGlyphs" fill="#222">3x10</text>
<text x="326.10" y="426.80" font-size="6" textLength="3.60" lengthAdjust="spacingAndGlyphs" fill="#222">4</text>
<text x="585.10" y="443.60" font-size="11.8" text-anchor="end" font-style="italic" textLength="30.00" lengthAdjust="spacingAndGlyphs" fill="#222">a-disk</text>
<line x1="340.4" y1="436.10" x2="361.4" y2="436.10" stroke="#222222" stroke-width="1.15" stroke-dasharray="2.2 2"/>
<text x="363.70" y="438.70" font-size="7.2" font-weight="bold" textLength="16.11" lengthAdjust="spacingAndGlyphs" fill="#222">1:1:1</text>
<line x1="340.4" y1="443.95" x2="361.4" y2="443.95" stroke="#2f8a35" stroke-width="1.15"/>
<text x="363.70" y="446.55" font-size="7.2" font-weight="bold" textLength="21.86" lengthAdjust="spacingAndGlyphs" fill="#3a8a3a">0.5:1:1</text>
<line x1="340.4" y1="451.80" x2="361.4" y2="451.80" stroke="#94e67e" stroke-width="1.15"/>
<text x="363.70" y="454.40" font-size="7.2" font-weight="bold" textLength="21.86" lengthAdjust="spacingAndGlyphs" fill="#88dc6a">0.2:1:1</text>
<line x1="340.4" y1="459.65" x2="361.4" y2="459.65" stroke="#ee9c66" stroke-width="1.15"/>
<text x="363.70" y="462.25" font-size="7.2" font-weight="bold" textLength="21.86" lengthAdjust="spacingAndGlyphs" fill="#e39d6e">0.1:1:1</text>
<line x1="340.4" y1="467.50" x2="361.4" y2="467.50" stroke="#d8422e" stroke-width="1.15"/>
<text x="363.70" y="470.10" font-size="7.2" font-weight="bold" textLength="25.70" lengthAdjust="spacingAndGlyphs" fill="#d24652">0.02:1:1</text>
<line x1="340.4" y1="475.35" x2="361.4" y2="475.35" stroke="#9a9a9a" stroke-width="1.15"/>
<text x="363.70" y="477.95" font-size="7.2" textLength="21.67" lengthAdjust="spacingAndGlyphs" fill="#9c9c9c">CDEx5</text>
<line x1="340.4" y1="483.20" x2="361.4" y2="483.20" stroke="#b0b0b0" stroke-width="1.15" stroke-dasharray="6 4"/>
<text x="363.70" y="485.80" font-size="7.2" textLength="25.47" lengthAdjust="spacingAndGlyphs" fill="#a8a8a8">CDE2x5</text>
<clipPath id="cb2"><rect x="29.7" y="556.9" width="260.90000000000003" height="102.89999999999998"/></clipPath>
<path clip-path="url(#cb2)" d="M29.7 658.2l7.6 -0.5 5.5 -0.5 3.9 -0.8 3.1 -1 2.1 -1.1 2.1 -1.6 8.3 -7.5 4.5 -3.6 3.9 -2.8 4.2 -2.7 5.5 -2.9 5.2 -2.2 4.7 -1.4 4.2 -0.6 2.6 0.2 2.1 0.5 1.8 0.9 1.6 1.4 1.3 1.6 1.3 2.1 4.2 8.8 2 3.6 1.3 1.7 1.4 1.3 1.5 1.1 1.9 1 2.6 1 3.4 0.8 3.9 0.5 4.4 0.2 5.2 0 4.7 -0.3 4 -0.6 2.8 -0.8 1.9 -0.8 1.8 -1.1 4.2 -3.3 3.9 -4 10.2 -11.6 6 -6.1 6.8 -6 11.5 -9 3.6 -3.1 3.1 -3.3 8.1 -9.7 4.7 -4.7 3.2 -2.5 3.1 -2 2.9 -1.3 2.6 -0.5 1.3 0.1 1.3 0.2 1.3 0.6 1.1 0.6 1.8 1.5 4.9 5.1 1.4 1 1.5 1 1.6 0.7 1.8 0.6 2.1 0.4 2.1 0.2 3.1 -0.1 3.4 -0.3 2.9 -0.5 2.1 -0.7 1.5 -0.9 1.6 -1.2 1.3 -1.4 3.2 -4 1.3 -1.2 0.7 -0.4 0.8 -0.1 0.8 0.2 0.5 0.4 0.8 1 0.8 1.6 1.3 4.2 5.5 25.9 1.8 7.5 1.6 5.5 1.6 4.3 1.8 3.8 1.8 2.7 2.1 2.2" fill="none" stroke="#9a9a9a" stroke-width="1.1"/>
<path clip-path="url(#cb2)" d="M29.7 658.2l9.9 -0.6 6.8 -0.8 4.7 -1.2 1.8 -0.7 1.9 -1 2.8 -2.3 2.9 -3.1 2.9 -3.9 7.3 -10.5 2.4 -3 2 -2.3 2.4 -2.1 2.3 -1.6 2.4 -1 2.1 -0.3 2.3 0.2 2.1 0.8 2.1 1.3 2.4 2.1 2.1 2.3 2.3 3.2 7.3 11.7 2.4 3.3 1.5 1.8 1.6 1.3 1.6 1 1.8 0.9 3.7 1.1 4.4 0.8 5.7 0.4 6.8 0.1 6.8 -0.3 5.8 -0.6 4.4 -0.9 3.4 -1.2 3.1 -1.8 2.9 -2.3 2.9 -3 3.1 -4 2.4 -3.6 2.8 -4.8 10 -17.8 4.4 -7.6 4.4 -6.8 4.5 -6 14.1 -16.4 3.1 -3.3 2.1 -1.8 2.1 -1.3 1.8 -0.8 1.8 -0.3 1.9 0.2 1.8 0.6 1.8 1.1 2.1 1.6 2.1 2.1 7.3 8.1 10.5 9.8 9.6 10 2.9 2.6 1.6 1.1 1.3 0.4 1.5 -0.1 2.9 -1 1.1 0.2 0.7 0.7 1.1 1.8 1 2.8 1.3 4.7 3.4 14 1.6 4.9 1.6 3.6 2.1 3.5 1.3 1.6 1.3 1.3 1.3 1 1.5 1 1.9 0.8 1.8 0.6" fill="none" stroke="#b0b0b0" stroke-width="1.1" stroke-dasharray="6 4"/>
<path clip-path="url(#cb2)" d="M29.7 659.1l16.2 -0.2 10.2 -0.4 6.5 -0.7 2.6 -0.5 2.1 -0.6 1.6 -0.7 1.5 -1 1.3 -1.1 1.1 -1.1 1 -1.5 1.1 -1.9 3.1 -7.1 0.8 -1.1 0.8 -0.4 0.5 0.3 0.8 1 2.6 5.9 1.3 2.5 1.3 2 1.3 1.4 1.8 1.4 2.1 1 2.6 0.8 3.2 0.6 7.6 0.7 11.4 0.3 19.4 0 18.3 -0.3 10.1 -0.4 7.6 -0.6 5.8 -0.8 4.4 -1.2 2.1 -0.8 1.8 -1 1.6 -1.1 1.5 -1.4 1.4 -1.6 1.3 -1.9 1 -2 1 -2.5 1.9 -5.8 1.5 -6.8 4.7 -27.4 0.8 -3 0.5 -0.9 0.3 -0.1 0.3 0.1 0.5 1.1 0.8 3.3 3.4 23 1 5.5 1.1 4.4 1.3 4.1 1.3 2.9 1.5 2.4 1.9 1.8 1.5 0.7 1.6 0.2 1.6 -0.5 1.3 -1 1.3 -1.6 1 -1.8 3.4 -7.9 0.8 -1.1 0.5 -0.2 0.8 0.5 0.8 1.4 3.4 9.2 1 2.2 1.1 1.8 1.3 1.7 1.6 1.5 1.8 1.3 2.1 0.9 3.1 1 3.7 0.6 4.4 0.4 4.4 0 2.6 -0.3 2.1 -0.5 1.6 -0.6 2.4 -1.5 1 -0.3 1 0.4 2.1 1.6 1.3 0.9 1.3 0.5 1.6 0.4 5.2 0.5 9.7 0.2" fill="none" stroke="#222222" stroke-width="1.1" stroke-dasharray="2.2 2.1"/>
<path clip-path="url(#cb2)" d="M29.7 659.1l19.3 -0.2 11.8 -0.4 7.6 -0.8 2.6 -0.5 2.3 -0.6 2.1 -1 1.6 -1 1.3 -1.1 1.3 -1.6 1 -1.6 1.1 -2.1 3.4 -8.2 0.7 -1.2 0.6 -0.2 0.5 0.1 0.8 1 3.9 9.2 1.6 2.6 1.5 1.9 2.1 1.6 2.4 1.2 2.8 0.9 3.7 0.6 5.7 0.5 7.6 0.3 23.3 0.1 9.1 -0.2 7.1 -0.4 5.2 -0.4 4.2 -0.7 2.6 -0.8 2.1 -0.8 1.8 -1.2 1.6 -1.4 1.3 -1.5 1.3 -2.1 3.6 -7.4 0.8 -1 0.8 -0.3 0.8 0.4 0.8 1 2.8 5.4 1.6 2.5 1.3 1.5 1.6 1.3 2.3 1.1 2.6 0.6 2.9 0 2.9 -0.5 1.8 -0.6 1.6 -0.8 1.3 -0.9 1.3 -1.2 1.3 -1.5 1 -1.6 1.9 -3.8 1.5 -4.9 1.3 -5.5 3.9 -22.6 0.8 -2.5 0.6 -0.6 0.2 0.1 0.5 0.9 0.8 2.9 2.9 15.7 1.6 6.6 1.5 4.2 0.8 1.4 1.1 1.1 0.7 0.4 1.1 -0.2 0.8 -0.5 0.8 -1 1.5 -3.2 2.9 -8.5 0.8 -1.4 0.5 -0.3 0.3 0 0.5 0.5 0.8 1.8 3.4 12.4 1 3.1 1 2.5 1.4 2.5 1.3 1.8 1.5 1.6 1.6 1.2 2.9 1.4 3.4 0.8 2.3 0.1 3.7 -0.5 1.3 0 4.4 1.9 3.4 0.8 6.5 0.5 9.7 0.1" fill="none" stroke="#2f8a35" stroke-width="1.15"/>
<path clip-path="url(#cb2)" d="M29.7 659.1l23.8 -0.2 13.8 -0.4 8.6 -0.8 3.2 -0.5 2.6 -0.8 2.1 -0.9 1.8 -1.1 1.6 -1.4 1.3 -1.7 1.3 -2.1 1 -2.2 3.4 -9 0.8 -1.3 0.8 -0.4 0.8 0.5 0.7 1.4 2.9 7.6 1.3 2.9 1.3 2.2 1.3 1.7 2.1 1.8 2.4 1.3 2.8 1 3.7 0.7 4.2 0.5 5.2 0.3 13.8 0.2 11.3 -0.4 3.9 -0.3 3.1 -0.6 2.1 -0.6 1.6 -0.6 1.3 -0.8 1.3 -1 2.1 -2.5 3.4 -5.6 0.8 -0.7 0.5 -0.1 0.5 0.1 0.8 0.8 3.4 5.4 2.1 2.4 1.5 1.1 1.6 0.8 1.8 0.6 2.1 0.5 3.9 0.5 5 0.3 6.3 0 7 -0.1 6 -0.4 5 -0.5 4.2 -0.7 3.6 -0.8 2.6 -0.9 2.4 -1.1 1.8 -1.1 1.8 -1.4 1.6 -1.6 1.6 -2.2 1.3 -2.3 1 -2.3 1.6 -4.5 1.6 -6.2 1.5 -8.2 3.4 -21.3 1.1 -3.9 0.2 -0.6 0.6 -0.4 0.5 0.2 0.5 1 2.3 7.1 0.8 1.8 0.6 0.8 0.5 0.3 0.8 -0.1 1.8 -2 0.8 -0.6 0.5 0.2 0.3 0.3 0.5 1 1 3.8 3.2 16.6 1.8 7.6 1.3 4.2 1.3 3.4 1.3 2.7 1.3 2.2 1.6 1.9 1.8 1.7 1.8 1.2 2.4 1.2 2.6 0.9 3.1 0.7 3.7 0.6 3.9 0.4" fill="none" stroke="#94e67e" stroke-width="1.15"/>
<path clip-path="url(#cb2)" d="M29.7 659.1l26.1 -0.2 14.9 -0.4 9.4 -0.8 3.4 -0.6 2.6 -0.7 2.4 -0.9 1.8 -1.2 1.6 -1.3 1.5 -2 1.3 -2.2 1.1 -2.2 3.4 -9.1 0.8 -1.4 0.7 -0.6 0.6 0.2 0.7 1.1 4.2 10.6 1.6 2.9 1.6 2.1 2 1.9 2.4 1.3 3.1 1 3.9 0.8 7.9 0.6 10.4 0.2 8.1 -0.3 3.2 -0.4 2.3 -0.4 2.9 -1 2.3 -1.5 2.1 -2.3 2.9 -4.4 0.8 -0.8 0.5 -0.2 0.5 0.1 0.8 0.6 3.7 5.2 1.3 1.3 1.3 1.1 1.5 0.8 2.1 0.8 2.4 0.5 2.6 0.3 6 0.4 8.4 0.2 10.9 -0.1 10.5 -0.3 7 -0.5 6 -0.6 5 -0.8 3.9 -0.9 2.6 -0.9 2.4 -1.2 2.1 -1.3 1.8 -1.5 1.6 -1.7 1.5 -2.1 1.3 -2.4 1.3 -2.9 2.1 -6.5 1.8 -8.3 1.6 -9.2 2.6 -17.7 1.1 -5.6 0.5 -2.1 0.8 -2 0.5 -0.8 0.8 -0.3 0.5 0.1 0.8 0.5 1 1.1 0.8 1.5 0.8 2.5 1.3 6.5 2.6 17.6 1.6 9.2 1.8 7.9 1.8 5.5 1.1 2.4 1.3 2.4 1.3 1.8 1.6 1.8 1.5 1.3 1.9 1.3 2 1 2.4 0.9" fill="none" stroke="#ee9c66" stroke-width="1.15"/>
<path clip-path="url(#cb2)" d="M29.7 659.1l28.5 -0.2 16.2 -0.4 9.9 -0.7 3.6 -0.6 2.9 -0.7 2.4 -1 2.1 -1.2 1.5 -1.3 1.6 -1.9 1.3 -2.2 1 -2.1 3.7 -9.8 0.8 -1.3 0.8 -0.5 0.5 0.2 0.8 1 4.1 10.7 1.6 3 1.6 2.1 2.1 1.9 2.6 1.4 3.1 1.1 3.7 0.7 6.2 0.5 7.3 0.2 5.8 -0.3 4.2 -0.7 2.3 -0.9 2.1 -1.3 1.8 -1.9 2.9 -3.9 0.8 -0.5 0.5 -0.1 0.5 0.1 0.8 0.7 3.7 4.7 1.3 1.1 1.3 0.9 1.8 0.8 2.1 0.5 2.6 0.5 3.4 0.3 8.1 0.4 12 0 15.2 -0.1 13 -0.4 8.4 -0.4 6.5 -0.6 5.5 -0.8 4.4 -1 2.9 -1 2.4 -1.1 2.1 -1.4 1.8 -1.5 1.8 -2.1 1.8 -2.7 1.6 -2.8 1.3 -3 1.8 -5.6 1.6 -6.8 1.6 -8.9 3.6 -24.8 1.1 -4.8 0.5 -1.3 0.5 -0.7 0.5 0.3 0.6 1 1 4.4 3.9 27.5 2.1 11.3 1.1 4.1 1.3 4.2 1.5 3.7 1.6 2.8" fill="none" stroke="#d8422e" stroke-width="1.15"/>
<rect x="29.7" y="556.9" width="260.90000000000003" height="102.39999999999998" fill="none" stroke="#6a6a6a" stroke-width="1"/>
<path d="M40.14 659.3v-1.4M40.14 556.9v1.4M50.57 659.3v-1.4M50.57 556.9v1.4M61.01 659.3v-1.4M61.01 556.9v1.4M71.44 659.3v-1.4M71.44 556.9v1.4M81.88 659.3v-2.4M81.88 556.9v2.4M92.32 659.3v-1.4M92.32 556.9v1.4M102.75 659.3v-1.4M102.75 556.9v1.4M113.19 659.3v-1.4M113.19 556.9v1.4M123.62 659.3v-1.4M123.62 556.9v1.4M134.06 659.3v-2.4M134.06 556.9v2.4M144.50 659.3v-1.4M144.50 556.9v1.4M154.93 659.3v-1.4M154.93 556.9v1.4M165.37 659.3v-1.4M165.37 556.9v1.4M175.80 659.3v-1.4M175.80 556.9v1.4M186.24 659.3v-2.4M186.24 556.9v2.4M196.68 659.3v-1.4M196.68 556.9v1.4M207.11 659.3v-1.4M207.11 556.9v1.4M217.55 659.3v-1.4M217.55 556.9v1.4M227.98 659.3v-1.4M227.98 556.9v1.4M238.42 659.3v-2.4M238.42 556.9v2.4M248.86 659.3v-1.4M248.86 556.9v1.4M259.29 659.3v-1.4M259.29 556.9v1.4M269.73 659.3v-1.4M269.73 556.9v1.4M280.16 659.3v-1.4M280.16 556.9v1.4M29.7 642.23h3M290.6 642.23h-3M29.7 625.17h3M290.6 625.17h-3M29.7 608.10h3M290.6 608.10h-3M29.7 591.03h3M290.6 591.03h-3M29.7 573.97h3M290.6 573.97h-3" stroke="#555" stroke-width="0.9" fill="none"/>
<text x="29.70" y="673.80" font-size="10.8" text-anchor="middle" fill="#222">15</text>
<text x="81.88" y="673.80" font-size="10.8" text-anchor="middle" fill="#222">16</text>
<text x="134.06" y="673.80" font-size="10.8" text-anchor="middle" fill="#222">17</text>
<text x="186.24" y="673.80" font-size="10.8" text-anchor="middle" fill="#222">18</text>
<text x="238.42" y="673.80" font-size="10.8" text-anchor="middle" fill="#222">19</text>
<text x="290.60" y="673.80" font-size="10.8" text-anchor="middle" fill="#222">20</text>
<text x="27.20" y="662.80" font-size="10.5" text-anchor="end" fill="#222">0</text>
<text x="22.50" y="628.47" font-size="9.8" text-anchor="end" textLength="23.38" lengthAdjust="spacingAndGlyphs" fill="#222">1x10</text>
<text x="22.90" y="624.97" font-size="6" textLength="3.60" lengthAdjust="spacingAndGlyphs" fill="#222">4</text>
<text x="22.50" y="594.33" font-size="9.8" text-anchor="end" textLength="23.38" lengthAdjust="spacingAndGlyphs" fill="#222">2x10</text>
<text x="22.90" y="590.83" font-size="6" textLength="3.60" lengthAdjust="spacingAndGlyphs" fill="#222">4</text>
<text x="22.50" y="560.20" font-size="9.8" text-anchor="end" textLength="23.38" lengthAdjust="spacingAndGlyphs" fill="#222">3x10</text>
<text x="22.90" y="556.70" font-size="6" textLength="3.60" lengthAdjust="spacingAndGlyphs" fill="#222">4</text>
<text x="283.00" y="573.50" font-size="11.8" text-anchor="end" font-style="italic" textLength="31.00" lengthAdjust="spacingAndGlyphs" fill="#222">b-disk</text>
<line x1="37.2" y1="566.00" x2="58.2" y2="566.00" stroke="#222222" stroke-width="1.15" stroke-dasharray="2.2 2"/>
<text x="60.50" y="568.60" font-size="7.2" font-weight="bold" textLength="16.11" lengthAdjust="spacingAndGlyphs" fill="#222">1:1:1</text>
<line x1="37.2" y1="573.85" x2="58.2" y2="573.85" stroke="#2f8a35" stroke-width="1.15"/>
<text x="60.50" y="576.45" font-size="7.2" font-weight="bold" textLength="21.86" lengthAdjust="spacingAndGlyphs" fill="#3a8a3a">1:0.5:1</text>
<line x1="37.2" y1="581.70" x2="58.2" y2="581.70" stroke="#94e67e" stroke-width="1.15"/>
<text x="60.50" y="584.30" font-size="7.2" font-weight="bold" textLength="21.86" lengthAdjust="spacingAndGlyphs" fill="#88dc6a">1:0.2:1</text>
<line x1="37.2" y1="589.55" x2="58.2" y2="589.55" stroke="#ee9c66" stroke-width="1.15"/>
<text x="60.50" y="592.15" font-size="7.2" font-weight="bold" textLength="21.86" lengthAdjust="spacingAndGlyphs" fill="#e39d6e">1:0.1:1</text>
<line x1="37.2" y1="597.40" x2="58.2" y2="597.40" stroke="#d8422e" stroke-width="1.15"/>
<text x="60.50" y="600.00" font-size="7.2" font-weight="bold" textLength="25.70" lengthAdjust="spacingAndGlyphs" fill="#d24652">1:0.02:1</text>
<line x1="37.2" y1="605.25" x2="58.2" y2="605.25" stroke="#9a9a9a" stroke-width="1.15"/>
<text x="60.50" y="607.85" font-size="7.2" textLength="21.67" lengthAdjust="spacingAndGlyphs" fill="#9c9c9c">CDEx5</text>
<line x1="37.2" y1="613.10" x2="58.2" y2="613.10" stroke="#b0b0b0" stroke-width="1.15" stroke-dasharray="6 4"/>
<text x="60.50" y="615.70" font-size="7.2" textLength="25.47" lengthAdjust="spacingAndGlyphs" fill="#a8a8a8">CDE2x5</text>
<clipPath id="cb3"><rect x="332.9" y="556.9" width="260.6" height="102.89999999999998"/></clipPath>
<path clip-path="url(#cb3)" d="M332.9 658.2l7.6 -0.5 5.4 -0.5 4 -0.8 3.1 -1 2.1 -1.1 2.1 -1.6 8.3 -7.5 4.4 -3.6 4 -2.8 4.1 -2.7 5.5 -2.9 5.2 -2.2 4.7 -1.4 4.2 -0.6 2.6 0.2 2.1 0.5 1.8 0.9 1.6 1.4 1.3 1.6 1.3 2.1 4.2 8.8 2 3.6 1.4 1.7 1.3 1.3 1.5 1.1 1.8 1 2.7 1 3.3 0.8 4 0.5 4.4 0.2 5.2 0 4.7 -0.3 3.9 -0.6 2.9 -0.8 1.8 -0.8 1.8 -1.1 4.2 -3.3 3.9 -4 10.2 -11.6 6 -6.1 6.8 -6 11.5 -9 3.6 -3.1 3.1 -3.3 8.1 -9.7 4.7 -4.7 3.2 -2.5 3.1 -2 2.9 -1.3 2.6 -0.5 1.3 0.1 1.3 0.2 1.3 0.6 1 0.6 1.8 1.5 5 5.1 1.3 1 1.6 1 1.5 0.7 1.9 0.6 2.1 0.4 2 0.2 3.2 -0.1 3.4 -0.3 2.8 -0.5 2.1 -0.7 1.6 -0.9 1.5 -1.2 1.4 -1.4 3.1 -4 1.3 -1.2 0.8 -0.4 0.8 -0.1 0.7 0.2 0.6 0.4 0.7 1 0.8 1.6 1.3 4.2 5.5 25.9 1.8 7.5 1.6 5.5 1.6 4.3 1.8 3.8 1.8 2.7 2.1 2.2" fill="none" stroke="#9a9a9a" stroke-width="1.1"/>
<path clip-path="url(#cb3)" d="M332.9 658.2l9.9 -0.6 6.8 -0.8 4.7 -1.2 1.8 -0.7 1.8 -1 2.9 -2.3 2.9 -3.1 2.9 -3.9 7.3 -10.5 2.3 -3 2.1 -2.3 2.3 -2.1 2.4 -1.6 2.3 -1 2.1 -0.3 2.4 0.2 2.1 0.8 2 1.3 2.4 2.1 2.1 2.3 2.3 3.2 7.3 11.7 2.4 3.3 1.5 1.8 1.6 1.3 1.6 1 1.8 0.9 3.6 1.1 4.5 0.8 5.7 0.4 6.8 0.1 6.8 -0.3 5.7 -0.6 4.5 -0.9 3.4 -1.2 3.1 -1.8 2.9 -2.3 2.8 -3 3.2 -4 2.3 -3.6 2.9 -4.8 9.9 -17.8 4.4 -7.6 4.5 -6.8 4.4 -6 14.1 -16.4 3.1 -3.3 2.1 -1.8 2.1 -1.3 1.8 -0.8 1.8 -0.3 1.9 0.2 1.8 0.6 1.8 1.1 2.1 1.6 2.1 2.1 7.3 8.1 10.4 9.8 9.7 10 2.8 2.6 1.6 1.1 1.3 0.4 1.6 -0.1 2.8 -1 1.1 0.2 0.8 0.7 1 1.8 1.1 2.8 1.3 4.7 3.4 14 1.5 4.9 1.6 3.6 2.1 3.5 1.3 1.6 1.3 1.3 1.3 1 1.5 1 1.9 0.8 1.8 0.6" fill="none" stroke="#b0b0b0" stroke-width="1.1" stroke-dasharray="6 4"/>
<path clip-path="url(#cb3)" d="M332.9 659.1l16.2 -0.2 10.1 -0.4 6.6 -0.7 2.6 -0.5 2.1 -0.6 1.5 -0.7 1.6 -1 1.3 -1.1 1 -1.1 1.1 -1.5 1 -1.9 3.2 -7.1 0.7 -1.1 0.8 -0.4 0.5 0.3 0.8 1 2.6 5.9 1.3 2.5 1.3 2 1.4 1.4 1.8 1.4 2.1 1 2.6 0.8 3.1 0.6 7.6 0.7 11.4 0.3 19.3 0 18.3 -0.3 10.2 -0.4 7.5 -0.6 5.8 -0.8 4.4 -1.2 2.1 -0.8 1.8 -1 1.6 -1.1 1.6 -1.4 1.3 -1.6 1.3 -1.9 2.1 -4.5 1.8 -5.8 1.6 -6.8 4.6 -27.4 0.8 -3 0.6 -0.9 0.2 -0.1 0.3 0.1 0.5 1.1 0.8 3.3 3.4 23 1 5.5 1.1 4.4 1.3 4.1 1.3 2.9 1.5 2.4 1.9 1.8 1.5 0.7 1.6 0.2 1.6 -0.5 1.3 -1 1.3 -1.6 1 -1.8 3.4 -7.9 0.8 -1.1 0.5 -0.2 0.8 0.5 0.8 1.4 3.4 9.2 1 2.2 1 1.8 1.3 1.7 1.6 1.5 1.8 1.3 2.1 0.9 3.2 1 3.6 0.6 4.4 0.4 4.5 0 2.6 -0.3 2.1 -0.5 1.5 -0.6 2.4 -1.5 1 -0.3 1.1 0.4 2.1 1.6 1.3 0.9 1.3 0.5 1.5 0.4 5.2 0.5 9.7 0.2" fill="none" stroke="#222222" stroke-width="1.1" stroke-dasharray="2.2 2.1"/>
<path clip-path="url(#cb3)" d="M332.9 659.1l14.1 -0.2 8.9 -0.4 6 -0.7 4.1 -1 1.6 -0.7 1.3 -0.7 1.3 -1.1 1 -1.1 1.9 -2.7 3.4 -6.9 0.7 -0.9 0.6 -0.1 0.5 0.3 0.8 1 2.6 5.4 1.3 2.2 1 1.5 1.3 1.3 1.6 1.2 2.1 1 2.3 0.7 3.2 0.6 6.5 0.6 9.6 0.3 15.9 0.1 18.3 -0.1 11.7 -0.2 8.7 -0.4 6.5 -0.6 4.7 -0.8 3.9 -1.2 2.9 -1.6 1.3 -1 1 -1.1 1.8 -2.8 1.6 -3.5 1.3 -4.2 3.7 -17 0.7 -2 0.3 -0.3 0.3 0 0.5 0.6 0.8 2.4 2.6 11.9 1.8 6.1 1 2.3 1.3 2.1 1.3 1.3 1.4 0.7 1.5 0.3 1.8 -0.4 1.9 -1.1 1.5 -1.6 1.6 -2.3 1.3 -2.6 3.7 -9 1.5 -3.3 0.8 -1.2 1 -1.2 0.8 -0.5 0.8 -0.1 0.5 0.3 0.6 0.5 1 2.1 3.9 12.7 1.1 2.7 1.3 2.6 1.5 2.4 1.6 1.7 1.8 1.5 2.4 1.3 2 0.9 2.4 0.7 5.5 0.9 7.5 0.6 6.6 -0.1 2.8 -0.4 2.4 -0.9 1.8 -1.4 2.4 -2.7 0.5 -0.3 0.5 -0.1 0.5 0.2 0.5 0.5 1.9 2.5 1 1.1 1.3 0.9 1.3 0.6 1.8 0.4 2.7 0.4 8.3 0.3" fill="none" stroke="#2f8a35" stroke-width="1.15"/>
<path clip-path="url(#cb3)" d="M332.9 659.1l13 -0.3 8.1 -0.3 5.5 -0.7 3.9 -1 1.6 -0.7 1.3 -0.8 2.1 -2 1.8 -2.8 2.9 -5.6 0.8 -0.9 0.5 -0.2 0.5 0.2 0.8 0.9 3.6 6.8 1.3 1.7 1.3 1.3 1.6 1.1 2.1 0.9 2.3 0.7 2.9 0.5 6 0.5 9.1 0.3 14.6 0.2 18 -0.1 12 -0.2 8.7 -0.3 6.2 -0.5 4.7 -0.7 3.4 -0.9 2.9 -1.4 2.3 -1.9 1.8 -2.5 1.4 -2.7 1 -2.8 1.3 -4.8 2.3 -10.4 0.8 -2.2 0.6 -0.6 0.5 0.3 0.8 1.9 3.1 13 1 3.3 1.1 2.5 1.3 2.3 1.5 1.8 1.9 1.4 2.3 1 3.1 0.5 3.2 -0.2 2.8 -0.8 2.4 -1.3 1.6 -1.3 1.3 -1.6 1.5 -2.7 3.2 -6.3 0.7 -1 0.8 -0.3 1.1 0.4 2.3 2.1 1.3 0.6 0.8 0 0.8 -0.3 3.1 -1.5 1.1 0 0.7 0.4 1.6 1.6 4.2 6.1 2.6 2.9 1.8 1.4 1.8 1.1 2.1 0.9 2.4 0.8 4.7 0.9 5.4 0.5 5.3 0 3.9 -0.5 2.1 -0.7 1.5 -1.1 1.3 -1.6 2.1 -3.3 0.8 -0.5 0.5 0.2 0.5 0.6 1.9 3.1 1 1.4 1.1 1 1 0.7 1.8 0.7 2.1 0.4 6.8 0.6" fill="none" stroke="#94e67e" stroke-width="1.15"/>
<path clip-path="url(#cb3)" d="M332.9 659l12.3 -0.2 8 -0.3 5.5 -0.7 3.9 -1 2.6 -1.3 2.1 -1.9 1.9 -2.6 2.8 -5.5 0.8 -1 0.5 -0.3 0.6 0.1 0.7 0.7 3.7 6.7 1.3 1.7 1.3 1.3 1.6 1.1 2.1 1 2.3 0.6 2.9 0.5 6 0.5 9.1 0.3 14.6 0.2 18 -0.1 11.7 -0.2 8.7 -0.3 6 -0.5 4.6 -0.7 3.4 -0.9 2.9 -1.4 2.1 -1.7 1.8 -2.4 1.3 -2.6 1.1 -2.9 1.3 -4.7 2.3 -10 0.8 -2 0.5 -0.4 0.5 0.5 0.6 1.3 3.1 12.6 1 3.2 1.3 3.1 1.6 2.4 1.6 1.6 1.8 1.3 2.4 0.9 3.1 0.5 3.1 -0.1 2.9 -0.6 2.6 -1.1 1.6 -1.2 1.5 -1.6 1.6 -2.3 2.9 -5.2 0.7 -0.8 0.8 -0.3 0.5 0.1 0.8 0.7 2.4 3 1 1 1.1 0.7 1 0.2 1 -0.1 1.3 -0.6 4.5 -3.5 1 -0.3 1.1 0.1 1.5 1.2 4.5 5.5 2.6 2.5 1.8 1.2 1.8 0.9 2.1 0.8 2.4 0.6 4.4 0.7 5.2 0.4 4.5 -0.1 3.1 -0.5 1.8 -0.8 1.6 -1.2 1.3 -1.7 1.8 -3.1 0.5 -0.6 0.5 -0.1 0.8 0.6 1.9 3.2 1 1.5 1 1.1 1.1 0.7 1.6 0.7 2 0.6 2.6 0.3 3.7 0.3" fill="none" stroke="#ee9c66" stroke-width="1.15"/>
<path clip-path="url(#cb3)" d="M332.9 659l12.3 -0.2 7.8 -0.3 5.2 -0.6 3.9 -1 2.6 -1.3 2.1 -1.9 1.8 -2.5 3.2 -5.9 0.8 -0.8 0.5 -0.1 0.5 0.2 0.8 0.9 3.6 6.6 1.1 1.4 1.3 1.3 1.5 1 2.1 1 2.4 0.6 2.8 0.5 6 0.6 8.9 0.3 32.1 0 20.3 -0.5 6.3 -0.4 4.7 -0.7 3.4 -0.9 2.9 -1.3 2.1 -1.7 1.8 -2.3 1.3 -2.5 1 -2.8 1.3 -4.6 2.4 -9.9 0.8 -2 0.5 -0.4 0.5 0.4 0.5 1.1 3.4 13.3 1.1 3.1 1 2.3 1.6 2.4 1.5 1.6 1.9 1.2 2.3 0.9 3.1 0.6 3.4 0 3.2 -0.6 2.6 -1.1 1.5 -1.1 1.6 -1.6 1.6 -2.2 2.8 -4.9 0.8 -0.7 0.8 -0.2 0.5 0.2 0.8 0.7 2.4 3.2 1.3 1.4 1.3 0.9 1.3 0.3 1.5 -0.2 1.6 -0.7 3.9 -3.4 1 -0.7 1.1 -0.4 1 0.1 1.6 1.1 4.4 5.1 2.9 2.5 1.6 0.9 1.8 0.9 2.1 0.7 2.3 0.6 4.5 0.6 4.9 0.3 4.2 -0.1 2.9 -0.6 1.8 -0.8 1.3 -1.1 1.3 -1.7 1.8 -3.2 0.5 -0.6 0.6 -0.1 0.8 0.7 1.8 3.2 1 1.5 1.1 1.1 1 0.7 1.6 0.7 2.1 0.6 5.7 0.5" fill="none" stroke="#d8422e" stroke-width="1.15"/>
<rect x="332.9" y="556.9" width="260.6" height="102.39999999999998" fill="none" stroke="#6a6a6a" stroke-width="1"/>
<path d="M343.32 659.3v-1.4M343.32 556.9v1.4M353.75 659.3v-1.4M353.75 556.9v1.4M364.17 659.3v-1.4M364.17 556.9v1.4M374.60 659.3v-1.4M374.60 556.9v1.4M385.02 659.3v-2.4M385.02 556.9v2.4M395.44 659.3v-1.4M395.44 556.9v1.4M405.87 659.3v-1.4M405.87 556.9v1.4M416.29 659.3v-1.4M416.29 556.9v1.4M426.72 659.3v-1.4M426.72 556.9v1.4M437.14 659.3v-2.4M437.14 556.9v2.4M447.56 659.3v-1.4M447.56 556.9v1.4M457.99 659.3v-1.4M457.99 556.9v1.4M468.41 659.3v-1.4M468.41 556.9v1.4M478.84 659.3v-1.4M478.84 556.9v1.4M489.26 659.3v-2.4M489.26 556.9v2.4M499.68 659.3v-1.4M499.68 556.9v1.4M510.11 659.3v-1.4M510.11 556.9v1.4M520.53 659.3v-1.4M520.53 556.9v1.4M530.96 659.3v-1.4M530.96 556.9v1.4M541.38 659.3v-2.4M541.38 556.9v2.4M551.80 659.3v-1.4M551.80 556.9v1.4M562.23 659.3v-1.4M562.23 556.9v1.4M572.65 659.3v-1.4M572.65 556.9v1.4M583.08 659.3v-1.4M583.08 556.9v1.4M332.9 642.23h3M593.5 642.23h-3M332.9 625.17h3M593.5 625.17h-3M332.9 608.10h3M593.5 608.10h-3M332.9 591.03h3M593.5 591.03h-3M332.9 573.97h3M593.5 573.97h-3" stroke="#555" stroke-width="0.9" fill="none"/>
<text x="332.90" y="673.80" font-size="10.8" text-anchor="middle" fill="#222">15</text>
<text x="385.02" y="673.80" font-size="10.8" text-anchor="middle" fill="#222">16</text>
<text x="437.14" y="673.80" font-size="10.8" text-anchor="middle" fill="#222">17</text>
<text x="489.26" y="673.80" font-size="10.8" text-anchor="middle" fill="#222">18</text>
<text x="541.38" y="673.80" font-size="10.8" text-anchor="middle" fill="#222">19</text>
<text x="593.50" y="673.80" font-size="10.8" text-anchor="middle" fill="#222">20</text>
<text x="330.40" y="662.80" font-size="10.5" text-anchor="end" fill="#222">0</text>
<text x="325.70" y="628.47" font-size="9.8" text-anchor="end" textLength="23.38" lengthAdjust="spacingAndGlyphs" fill="#222">1x10</text>
<text x="326.10" y="624.97" font-size="6" textLength="3.60" lengthAdjust="spacingAndGlyphs" fill="#222">4</text>
<text x="325.70" y="594.33" font-size="9.8" text-anchor="end" textLength="23.38" lengthAdjust="spacingAndGlyphs" fill="#222">2x10</text>
<text x="326.10" y="590.83" font-size="6" textLength="3.60" lengthAdjust="spacingAndGlyphs" fill="#222">4</text>
<text x="325.70" y="560.20" font-size="9.8" text-anchor="end" textLength="23.38" lengthAdjust="spacingAndGlyphs" fill="#222">3x10</text>
<text x="326.10" y="556.70" font-size="6" textLength="3.60" lengthAdjust="spacingAndGlyphs" fill="#222">4</text>
<text x="586.00" y="573.50" font-size="11.8" text-anchor="end" font-style="italic" textLength="45.00" lengthAdjust="spacingAndGlyphs" fill="#222">b-needle</text>
<line x1="340.4" y1="566.00" x2="361.4" y2="566.00" stroke="#222222" stroke-width="1.15" stroke-dasharray="2.2 2"/>
<text x="363.70" y="568.60" font-size="7.2" font-weight="bold" textLength="16.11" lengthAdjust="spacingAndGlyphs" fill="#222">1:1:1</text>
<line x1="340.4" y1="573.85" x2="361.4" y2="573.85" stroke="#2f8a35" stroke-width="1.15"/>
<text x="363.70" y="576.45" font-size="7.2" font-weight="bold" textLength="16.11" lengthAdjust="spacingAndGlyphs" fill="#3a8a3a">1:2:1</text>
<line x1="340.4" y1="581.70" x2="361.4" y2="581.70" stroke="#94e67e" stroke-width="1.15"/>
<text x="363.70" y="584.30" font-size="7.2" font-weight="bold" textLength="16.11" lengthAdjust="spacingAndGlyphs" fill="#88dc6a">1:5:1</text>
<line x1="340.4" y1="589.55" x2="361.4" y2="589.55" stroke="#ee9c66" stroke-width="1.15"/>
<text x="363.70" y="592.15" font-size="7.2" font-weight="bold" textLength="19.95" lengthAdjust="spacingAndGlyphs" fill="#e39d6e">1:10:1</text>
<line x1="340.4" y1="597.40" x2="361.4" y2="597.40" stroke="#d8422e" stroke-width="1.15"/>
<text x="363.70" y="600.00" font-size="7.2" font-weight="bold" textLength="19.95" lengthAdjust="spacingAndGlyphs" fill="#d24652">1:50:1</text>
<line x1="340.4" y1="605.25" x2="361.4" y2="605.25" stroke="#9a9a9a" stroke-width="1.15"/>
<text x="363.70" y="607.85" font-size="7.2" textLength="21.67" lengthAdjust="spacingAndGlyphs" fill="#9c9c9c">CDEx5</text>
<line x1="340.4" y1="613.10" x2="361.4" y2="613.10" stroke="#b0b0b0" stroke-width="1.15" stroke-dasharray="6 4"/>
<text x="363.70" y="615.70" font-size="7.2" textLength="25.47" lengthAdjust="spacingAndGlyphs" fill="#a8a8a8">CDE2x5</text>
<clipPath id="cb4"><rect x="29.7" y="686.7" width="260.90000000000003" height="103.0"/></clipPath>
<path clip-path="url(#cb4)" d="M29.7 788.1l7.6 -0.5 5.5 -0.5 3.9 -0.8 3.1 -1 2.1 -1.1 2.1 -1.6 8.3 -7.5 4.5 -3.6 3.9 -2.9 4.2 -2.6 5.5 -2.9 5.2 -2.2 4.7 -1.4 4.2 -0.6 2.6 0.1 2.1 0.6 1.8 0.9 1.6 1.4 1.3 1.6 1.3 2.1 4.2 8.8 2 3.6 1.3 1.7 1.4 1.3 1.5 1.1 1.9 1 2.6 1 3.4 0.8 3.9 0.5 4.4 0.2 5.2 0 4.7 -0.3 4 -0.6 2.8 -0.8 1.9 -0.8 1.8 -1.1 4.2 -3.3 3.9 -4 10.2 -11.6 6 -6.1 6.8 -6 11.5 -9 3.6 -3.2 3.1 -3.3 8.1 -9.6 4.7 -4.7 3.2 -2.6 3.1 -2 2.9 -1.2 2.6 -0.5 1.3 0 1.3 0.3 1.3 0.5 1.1 0.6 1.8 1.6 4.9 5 1.4 1.1 1.5 1 1.6 0.7 1.8 0.5 2.1 0.4 2.1 0.2 3.1 0 3.4 -0.3 2.9 -0.6 2.1 -0.7 1.5 -0.9 1.6 -1.2 1.3 -1.4 3.2 -3.9 1.3 -1.3 0.7 -0.4 0.8 -0.1 0.8 0.2 0.5 0.4 0.8 1 0.8 1.6 1.3 4.3 5.5 25.9 1.8 7.5 1.6 5.5 1.6 4.3 1.8 3.8 1.8 2.7 2.1 2.2" fill="none" stroke="#9a9a9a" stroke-width="1.1"/>
<path clip-path="url(#cb4)" d="M29.7 788.1l9.9 -0.6 6.8 -0.8 4.7 -1.2 1.8 -0.7 1.9 -1 2.8 -2.3 2.9 -3.2 2.9 -3.8 7.3 -10.5 2.4 -3 2 -2.3 2.4 -2.2 2.3 -1.6 2.4 -0.9 2.1 -0.4 2.3 0.3 2.1 0.8 2.1 1.3 2.4 2 2.1 2.4 2.3 3.1 7.3 11.8 2.4 3.3 1.5 1.8 1.6 1.3 1.6 1 1.8 0.9 3.7 1.1 4.4 0.8 5.7 0.4 6.8 0.1 6.8 -0.3 5.8 -0.6 4.4 -0.9 3.4 -1.2 3.1 -1.8 2.9 -2.3 2.9 -3 3.1 -4.1 2.4 -3.5 2.8 -4.8 10 -17.8 4.4 -7.6 4.4 -6.9 4.5 -5.9 14.1 -16.5 3.1 -3.3 2.1 -1.8 2.1 -1.3 1.8 -0.7 1.8 -0.3 1.9 0.1 1.8 0.6 1.8 1.1 2.1 1.6 2.1 2.1 7.3 8.1 10.5 9.9 9.6 10 2.9 2.6 1.6 1 1.3 0.5 1.5 -0.2 2.9 -1 1.1 0.3 0.7 0.7 1.1 1.7 1 2.8 1.3 4.8 3.4 14 1.6 4.8 1.6 3.7 2.1 3.5 1.3 1.6 1.3 1.3 1.3 1 1.5 1 1.9 0.8 1.8 0.6" fill="none" stroke="#b0b0b0" stroke-width="1.1" stroke-dasharray="6 4"/>
<path clip-path="url(#cb4)" d="M29.7 789l16.2 -0.2 10.2 -0.4 6.5 -0.7 2.6 -0.5 2.1 -0.6 1.6 -0.7 1.5 -1 1.3 -1.1 1.1 -1.1 1 -1.5 1.1 -1.9 3.1 -7.1 0.8 -1.2 0.8 -0.3 0.5 0.3 0.8 1 2.6 5.9 1.3 2.5 1.3 1.9 1.3 1.5 1.8 1.4 2.1 1 2.6 0.8 3.2 0.6 7.6 0.7 11.4 0.3 19.4 0 18.3 -0.3 10.1 -0.4 7.6 -0.6 5.8 -0.8 4.4 -1.2 2.1 -0.9 1.8 -0.9 1.6 -1.1 1.5 -1.5 1.4 -1.5 1.3 -2 1 -1.9 1 -2.5 1.9 -5.8 1.5 -6.9 4.7 -27.4 0.8 -2.9 0.5 -1 0.3 -0.1 0.3 0.1 0.5 1.1 0.8 3.4 3.4 23 1 5.5 1.1 4.4 1.3 4 1.3 3 1.5 2.4 1.9 1.8 1.5 0.7 1.6 0.2 1.6 -0.5 1.3 -1 1.3 -1.6 1 -1.8 3.4 -8 0.8 -1 0.5 -0.3 0.8 0.5 0.8 1.4 3.4 9.2 1 2.3 1.1 1.8 1.3 1.7 1.6 1.5 1.8 1.3 2.1 0.9 3.1 1 3.7 0.6 4.4 0.4 4.4 0 2.6 -0.3 2.1 -0.5 1.6 -0.7 2.4 -1.4 1 -0.3 1 0.4 2.1 1.6 1.3 0.9 1.3 0.5 1.6 0.4 5.2 0.5 9.7 0.2" fill="none" stroke="#222222" stroke-width="1.1" stroke-dasharray="2.2 2.1"/>
<path clip-path="url(#cb4)" d="M29.7 789l19.3 -0.2 11.8 -0.4 7.6 -0.8 2.6 -0.5 2.3 -0.6 2.1 -1 1.6 -1 1.3 -1.1 1.3 -1.6 1 -1.6 1.1 -2.1 3.4 -8.3 0.7 -1.1 0.6 -0.3 0.5 0.2 0.8 1 3.6 8.6 1.3 2.4 1.3 1.8 1.6 1.6 1.6 1.1 2.1 1 2.3 0.7 4.2 0.8 5.5 0.5 7.3 0.3 9.9 0.1 12 -0.1 9.7 -0.3 6.8 -0.4 4.9 -0.7 3.4 -0.9 2.9 -1.3 2.1 -1.7 1.8 -2.3 1.3 -2.5 1.1 -2.8 1 -3.5 2.4 -9.6 0.8 -2.1 0.5 -0.5 0.5 0.3 0.8 1.7 2.9 11 0.7 2.4 1.1 2.5 1 1.9 1.1 1.3 1.3 1.2 1.6 1 1.3 0.5 1.3 0.2 2.8 0 2.9 -0.8 2.4 -1.4 1.5 -1.4 1.6 -1.9 1.6 -2.6 3.6 -7.1 1.1 -1.2 0.7 -0.4 0.8 0.3 1.1 1.1 4.2 7.5 1.3 1.8 1.5 1.7 1.6 1.1 1.8 0.9 1.8 0.4 1.9 -0.1 1.8 -0.6 1.8 -1.1 1.6 -1.6 1.3 -2 1.1 -2.2 1 -2.7 3.4 -11.4 0.8 -1.7 0.5 -0.5 0.3 -0.1 0.5 0.4 0.8 1.6 3.4 11.8 1 3 1 2.3 1.1 1.9 1.3 1.9 1.6 1.5 1.5 1.2 2.1 1 2.6 0.8 2.6 0.4 2.7 0 1.5 -0.3 1.6 -0.7 1 -0.6 2.1 -1.9 1.1 -0.4 0.5 0.2 0.5 0.4 2.1 2.4 1 0.9 1.4 0.8 1.3 0.5 2 0.5 2.9 0.3 8.9 0.3" fill="none" stroke="#2f8a35" stroke-width="1.15"/>
<path clip-path="url(#cb4)" d="M29.7 789l23.8 -0.2 13.8 -0.4 8.6 -0.8 3.2 -0.5 2.6 -0.8 2.1 -0.9 1.8 -1.1 1.6 -1.4 1.3 -1.7 1.3 -2.1 1 -2.2 3.4 -9 0.8 -1.3 0.8 -0.4 0.8 0.5 0.7 1.4 2.9 7.6 1.3 2.9 1.3 2.2 1.6 1.9 2.1 1.8 2.6 1.3 3.4 1 4.2 0.7 4.4 0.4 5.2 0.2 12.3 0 7.8 -0.6 2.7 -0.4 2.3 -0.7 1.6 -0.8 1.3 -0.8 1.3 -1.3 1 -1.4 1.9 -3.7 2.6 -7.3 0.5 -0.9 0.5 -0.3 0.5 0.2 0.6 0.8 3.1 8.4 1 2.1 1.3 1.8 1.6 1.5 1.8 1.1 2.1 0.7 2.6 0.6 3.4 0.4 4.5 0.2 10.2 -0.2 4.1 -0.4 3.7 -0.5 2.9 -0.5 2.6 -0.9 1.8 -0.7 1.6 -0.9 1.5 -1.2 1.3 -1.2 2.4 -3 4.2 -6.7 1 -1.2 1.1 -0.4 0.7 0.2 1.1 0.9 4.9 7 1.6 1.7 1.6 1.3 2.1 1.1 2.1 0.6 2.3 0.2 2.1 -0.2 2.6 -0.8 2.4 -1.5 1.8 -1.9 1.8 -2.9 1.6 -3.8 1.3 -4.2 3.6 -15.7 0.8 -2.2 0.6 -0.6 0.2 -0.1 0.3 0.1 0.5 0.8 0.8 2.3 2.9 12.3 1.3 4.6 1.3 3.5 1.5 2.6 1.1 1 1 0.3 0.8 -0.1 1.8 -1 0.8 0.2 0.8 0.9 2.1 4.1 1 1.5 1.6 1.6 1.8 1.2 2.1 0.8 2.4 0.6 6.5 0.8" fill="none" stroke="#94e67e" stroke-width="1.15"/>
<path clip-path="url(#cb4)" d="M29.7 789l26.1 -0.2 14.9 -0.4 9.4 -0.8 3.4 -0.6 2.6 -0.7 2.4 -0.9 1.8 -1.2 1.6 -1.3 1.5 -2 1.3 -2.2 1.1 -2.2 3.4 -9.1 0.8 -1.5 0.7 -0.5 0.8 0.4 0.8 1.4 2.9 7.7 1.5 3.5 1.3 2.2 1.6 2 2.1 1.7 2.6 1.4 3.2 0.9 3.9 0.7 7.3 0.5 8.3 0 5.8 -0.5 2.1 -0.4 1.8 -0.6 2.4 -1.3 1 -1 1 -1.3 1.6 -2.8 2.4 -5.6 0.5 -0.9 0.5 -0.4 0.5 0.1 0.5 0.6 3.4 7.6 1.1 1.7 1.3 1.4 1.6 1.2 1.8 0.8 2.3 0.7 2.9 0.5 4.2 0.3 5.7 0.2 14.1 -0.2 9.7 -0.7 3.7 -0.5 3.1 -0.7 2.1 -0.7 1.8 -0.7 1.8 -1.1 1.6 -1.2 2.6 -2.7 4.5 -6.2 1 -0.9 1 -0.4 0.8 0.1 1.1 0.8 5.2 6.5 1.8 1.7 1.9 1.2 2.3 1 2.6 0.6 2.9 0.2 2.9 -0.3 3.1 -0.9 1.6 -0.8 1.3 -0.9 1.3 -1.2 1 -1.2 1.8 -2.8 1.6 -3.6 1.6 -5.1 4.2 -18.3 0.7 -2 0.3 -0.3 0.5 -0.3 0.5 0.4 0.8 1.4 2.4 6.6 1.3 4.6 2.9 12.3 1 3.1 1.3 2.9 1.1 1.7 1 1.3 2.3 2.1 3.2 1.6 3.9 1.2" fill="none" stroke="#ee9c66" stroke-width="1.15"/>
<path clip-path="url(#cb4)" d="M29.7 789l28.5 -0.2 16.2 -0.4 9.9 -0.7 3.6 -0.6 2.9 -0.7 2.4 -1 2.1 -1.2 1.5 -1.4 1.6 -1.8 1.3 -2.2 1 -2.2 3.7 -9.7 0.8 -1.4 0.8 -0.5 0.5 0.2 0.8 1.1 4.1 10.7 1.6 2.9 1.6 2.1 2.1 1.9 2.3 1.4 3.2 1 3.6 0.7 5.2 0.4 5.5 0 3.9 -0.5 2.9 -0.9 1.8 -1.2 1.6 -1.6 1.3 -2.1 2.4 -4.8 0.5 -0.7 0.5 -0.3 0.5 0.2 0.8 1 2.1 4.3 1 1.8 1.1 1.4 1.3 1.2 1.6 0.9 2 0.8 2.4 0.6 3.1 0.3 5 0.3 6.5 0.2 17.5 -0.1 11.5 -0.6 4.2 -0.4 3.6 -0.6 4.5 -1.3 1.8 -0.8 1.8 -1.1 2.9 -2.5 4.5 -5.2 1 -0.8 1 -0.4 1.1 0.2 1 0.7 5.5 5.8 2.1 1.6 2.1 1.1 2.9 0.9 3.1 0.5 3.4 0.1 3.4 -0.3 3.6 -0.9 2.9 -1.4 2.4 -2 1 -1.2 1.1 -1.6 1.5 -3.3 1.3 -4.1 1.1 -4.3 2.1 -10.3 0.8 -2.9 1 -2.4 0.8 -0.9 0.5 -0.1 0.8 0.6 1 2.3 3.7 14.7 2.1 6.5 1 2.4 1.3 2.3 1.3 1.8 1.6 1.6" fill="none" stroke="#d8422e" stroke-width="1.15"/>
<rect x="29.7" y="686.7" width="260.90000000000003" height="102.5" fill="none" stroke="#6a6a6a" stroke-width="1"/>
<path d="M40.14 789.2v-1.4M40.14 686.7v1.4M50.57 789.2v-1.4M50.57 686.7v1.4M61.01 789.2v-1.4M61.01 686.7v1.4M71.44 789.2v-1.4M71.44 686.7v1.4M81.88 789.2v-2.4M81.88 686.7v2.4M92.32 789.2v-1.4M92.32 686.7v1.4M102.75 789.2v-1.4M102.75 686.7v1.4M113.19 789.2v-1.4M113.19 686.7v1.4M123.62 789.2v-1.4M123.62 686.7v1.4M134.06 789.2v-2.4M134.06 686.7v2.4M144.50 789.2v-1.4M144.50 686.7v1.4M154.93 789.2v-1.4M154.93 686.7v1.4M165.37 789.2v-1.4M165.37 686.7v1.4M175.80 789.2v-1.4M175.80 686.7v1.4M186.24 789.2v-2.4M186.24 686.7v2.4M196.68 789.2v-1.4M196.68 686.7v1.4M207.11 789.2v-1.4M207.11 686.7v1.4M217.55 789.2v-1.4M217.55 686.7v1.4M227.98 789.2v-1.4M227.98 686.7v1.4M238.42 789.2v-2.4M238.42 686.7v2.4M248.86 789.2v-1.4M248.86 686.7v1.4M259.29 789.2v-1.4M259.29 686.7v1.4M269.73 789.2v-1.4M269.73 686.7v1.4M280.16 789.2v-1.4M280.16 686.7v1.4M29.7 772.12h3M290.6 772.12h-3M29.7 755.03h3M290.6 755.03h-3M29.7 737.95h3M290.6 737.95h-3M29.7 720.87h3M290.6 720.87h-3M29.7 703.78h3M290.6 703.78h-3" stroke="#555" stroke-width="0.9" fill="none"/>
<text x="29.70" y="803.70" font-size="10.8" text-anchor="middle" fill="#222">15</text>
<text x="81.88" y="803.70" font-size="10.8" text-anchor="middle" fill="#222">16</text>
<text x="134.06" y="803.70" font-size="10.8" text-anchor="middle" fill="#222">17</text>
<text x="186.24" y="803.70" font-size="10.8" text-anchor="middle" fill="#222">18</text>
<text x="238.42" y="803.70" font-size="10.8" text-anchor="middle" fill="#222">19</text>
<text x="290.60" y="803.70" font-size="10.8" text-anchor="middle" fill="#222">20</text>
<text x="27.20" y="792.70" font-size="10.5" text-anchor="end" fill="#222">0</text>
<text x="22.50" y="758.33" font-size="9.8" text-anchor="end" textLength="23.38" lengthAdjust="spacingAndGlyphs" fill="#222">1x10</text>
<text x="22.90" y="754.83" font-size="6" textLength="3.60" lengthAdjust="spacingAndGlyphs" fill="#222">4</text>
<text x="22.50" y="724.17" font-size="9.8" text-anchor="end" textLength="23.38" lengthAdjust="spacingAndGlyphs" fill="#222">2x10</text>
<text x="22.90" y="720.67" font-size="6" textLength="3.60" lengthAdjust="spacingAndGlyphs" fill="#222">4</text>
<text x="22.50" y="690.00" font-size="9.8" text-anchor="end" textLength="23.38" lengthAdjust="spacingAndGlyphs" fill="#222">3x10</text>
<text x="22.90" y="686.50" font-size="6" textLength="3.60" lengthAdjust="spacingAndGlyphs" fill="#222">4</text>
<text x="282.20" y="703.30" font-size="11.8" text-anchor="end" font-style="italic" textLength="30.00" lengthAdjust="spacingAndGlyphs" fill="#222">c-disk</text>
<line x1="37.2" y1="695.80" x2="58.2" y2="695.80" stroke="#222222" stroke-width="1.15" stroke-dasharray="2.2 2"/>
<text x="60.50" y="698.40" font-size="7.2" font-weight="bold" textLength="16.11" lengthAdjust="spacingAndGlyphs" fill="#222">1:1:1</text>
<line x1="37.2" y1="703.65" x2="58.2" y2="703.65" stroke="#2f8a35" stroke-width="1.15"/>
<text x="60.50" y="706.25" font-size="7.2" font-weight="bold" textLength="21.86" lengthAdjust="spacingAndGlyphs" fill="#3a8a3a">1:1:0.5</text>
<line x1="37.2" y1="711.50" x2="58.2" y2="711.50" stroke="#94e67e" stroke-width="1.15"/>
<text x="60.50" y="714.10" font-size="7.2" font-weight="bold" textLength="21.86" lengthAdjust="spacingAndGlyphs" fill="#88dc6a">1:1:0.2</text>
<line x1="37.2" y1="719.35" x2="58.2" y2="719.35" stroke="#ee9c66" stroke-width="1.15"/>
<text x="60.50" y="721.95" font-size="7.2" font-weight="bold" textLength="21.86" lengthAdjust="spacingAndGlyphs" fill="#e39d6e">1:1:0.1</text>
<line x1="37.2" y1="727.20" x2="58.2" y2="727.20" stroke="#d8422e" stroke-width="1.15"/>
<text x="60.50" y="729.80" font-size="7.2" font-weight="bold" textLength="25.70" lengthAdjust="spacingAndGlyphs" fill="#d24652">1:1:0.02</text>
<line x1="37.2" y1="735.05" x2="58.2" y2="735.05" stroke="#9a9a9a" stroke-width="1.15"/>
<text x="60.50" y="737.65" font-size="7.2" textLength="21.67" lengthAdjust="spacingAndGlyphs" fill="#9c9c9c">CDEx5</text>
<line x1="37.2" y1="742.90" x2="58.2" y2="742.90" stroke="#b0b0b0" stroke-width="1.15" stroke-dasharray="6 4"/>
<text x="60.50" y="745.50" font-size="7.2" textLength="25.47" lengthAdjust="spacingAndGlyphs" fill="#a8a8a8">CDE2x5</text>
<clipPath id="cb5"><rect x="332.9" y="686.7" width="260.6" height="103.0"/></clipPath>
<path clip-path="url(#cb5)" d="M332.9 788.1l7.6 -0.5 5.4 -0.5 4 -0.8 3.1 -1 2.1 -1.1 2.1 -1.6 8.3 -7.5 4.4 -3.6 4 -2.9 4.1 -2.6 5.5 -2.9 5.2 -2.2 4.7 -1.4 4.2 -0.6 2.6 0.1 2.1 0.6 1.8 0.9 1.6 1.4 1.3 1.6 1.3 2.1 4.2 8.8 2 3.6 1.4 1.7 1.3 1.3 1.5 1.1 1.8 1 2.7 1 3.3 0.8 4 0.5 4.4 0.2 5.2 0 4.7 -0.3 3.9 -0.6 2.9 -0.8 1.8 -0.8 1.8 -1.1 4.2 -3.3 3.9 -4 10.2 -11.6 6 -6.1 6.8 -6 11.5 -9 3.6 -3.2 3.1 -3.3 8.1 -9.6 4.7 -4.7 3.2 -2.6 3.1 -2 2.9 -1.2 2.6 -0.5 1.3 0 1.3 0.3 1.3 0.5 1 0.6 1.8 1.6 5 5 1.3 1.1 1.6 1 1.5 0.7 1.9 0.5 2.1 0.4 2 0.2 3.2 0 3.4 -0.3 2.8 -0.6 2.1 -0.7 1.6 -0.9 1.5 -1.2 1.4 -1.4 3.1 -3.9 1.3 -1.3 0.8 -0.4 0.8 -0.1 0.7 0.2 0.6 0.4 0.7 1 0.8 1.6 1.3 4.3 5.5 25.9 1.8 7.5 1.6 5.5 1.6 4.3 1.8 3.8 1.8 2.7 2.1 2.2" fill="none" stroke="#9a9a9a" stroke-width="1.1"/>
<path clip-path="url(#cb5)" d="M332.9 788.1l9.9 -0.6 6.8 -0.8 4.7 -1.2 1.8 -0.7 1.8 -1 2.9 -2.3 2.9 -3.2 2.9 -3.8 7.3 -10.5 2.3 -3 2.1 -2.3 2.3 -2.2 2.4 -1.6 2.3 -0.9 2.1 -0.4 2.4 0.3 2.1 0.8 2 1.3 2.4 2 2.1 2.4 2.3 3.1 7.3 11.8 2.4 3.3 1.5 1.8 1.6 1.3 1.6 1 1.8 0.9 3.6 1.1 4.5 0.8 5.7 0.4 6.8 0.1 6.8 -0.3 5.7 -0.6 4.5 -0.9 3.4 -1.2 3.1 -1.8 2.9 -2.3 2.8 -3 3.2 -4.1 2.3 -3.5 2.9 -4.8 9.9 -17.8 4.4 -7.6 4.5 -6.9 4.4 -5.9 14.1 -16.5 3.1 -3.3 2.1 -1.8 2.1 -1.3 1.8 -0.7 1.8 -0.3 1.9 0.1 1.8 0.6 1.8 1.1 2.1 1.6 2.1 2.1 7.3 8.1 10.4 9.9 9.7 10 2.8 2.6 1.6 1 1.3 0.5 1.6 -0.2 2.8 -1 1.1 0.3 0.8 0.7 1 1.7 1.1 2.8 1.3 4.8 3.4 14 1.5 4.8 1.6 3.7 2.1 3.5 1.3 1.6 1.3 1.3 1.3 1 1.5 1 1.9 0.8 1.8 0.6" fill="none" stroke="#b0b0b0" stroke-width="1.1" stroke-dasharray="6 4"/>
<path clip-path="url(#cb5)" d="M332.9 789l16.2 -0.2 10.1 -0.4 6.6 -0.7 2.6 -0.5 2.1 -0.6 1.5 -0.7 1.6 -1 1.3 -1.1 1 -1.1 1.1 -1.5 1 -1.9 3.2 -7.1 0.7 -1.2 0.8 -0.3 0.5 0.3 0.8 1 2.6 5.9 1.3 2.5 1.3 1.9 1.4 1.5 1.8 1.4 2.1 1 2.6 0.8 3.1 0.6 7.6 0.7 11.4 0.3 19.3 0 18.3 -0.3 10.2 -0.4 7.5 -0.6 5.8 -0.8 4.4 -1.2 2.1 -0.9 1.8 -0.9 1.6 -1.1 1.6 -1.5 1.3 -1.5 1.3 -2 1 -1.9 1.1 -2.5 1.8 -5.8 1.6 -6.9 4.6 -27.4 0.8 -2.9 0.6 -1 0.2 -0.1 0.3 0.1 0.5 1.1 0.8 3.4 3.4 23 1 5.5 1.1 4.4 1.3 4 1.3 3 1.5 2.4 1.9 1.8 1.5 0.7 1.6 0.2 1.6 -0.5 1.3 -1 1.3 -1.6 1 -1.8 3.4 -8 0.8 -1 0.5 -0.3 0.8 0.5 0.8 1.4 3.4 9.2 1 2.3 1 1.8 1.3 1.7 1.6 1.5 1.8 1.3 2.1 0.9 3.2 1 3.6 0.6 4.4 0.4 4.5 0 2.6 -0.3 2.1 -0.5 1.5 -0.7 2.4 -1.4 1 -0.3 1.1 0.4 2.1 1.6 1.3 0.9 1.3 0.5 1.5 0.4 5.2 0.5 9.7 0.2" fill="none" stroke="#222222" stroke-width="1.1" stroke-dasharray="2.2 2.1"/>
<path clip-path="url(#cb5)" d="M332.9 789l14.1 -0.3 8.9 -0.3 6 -0.7 4.1 -1 1.6 -0.7 1.3 -0.7 1.3 -1.1 1 -1.1 1.9 -2.7 3.4 -6.9 0.7 -0.9 0.6 -0.1 0.5 0.2 0.8 1 3.4 6.9 1.3 1.9 1.3 1.5 1.5 1.2 2.1 1.1 2.4 0.8 2.8 0.5 5.3 0.6 7.5 0.3 26.4 0.2 27.1 -0.4 8.3 -0.3 6.3 -0.6 4.2 -0.7 3.1 -1 2.6 -1.2 2.1 -1.5 1.6 -1.6 1.3 -1.8 1.5 -2.8 3.2 -6.9 1 -1.5 0.8 -0.3 0.8 0.3 0.8 0.9 3.9 7.5 1.3 1.9 1.5 1.6 1.9 1.3 2.1 0.7 2 0.2 2.4 -0.3 1.8 -0.6 1.6 -1 1.3 -1.2 1.3 -1.6 1.8 -3.3 3.4 -8.6 0.8 -1.6 0.5 -0.7 0.5 -0.4 0.8 0 2.1 1.1 0.8 0.1 0.5 -0.2 0.5 -0.4 0.8 -1.1 1.3 -3.3 1.1 -3.9 3.6 -19.1 0.8 -2.3 0.5 -0.5 0.3 0.1 0.5 0.8 0.8 2.9 3.6 21.4 1.1 5 1 4 1.3 4 1.6 3.5 1.6 2.6 1.8 2.2 1.8 1.5 2.1 1.3 2.3 1 2.4 0.6 2.1 0.3 2.1 -0.1 1.8 -0.3 2.3 -0.8 1.1 -0.2 1 0.4 3.7 2.2 2.8 0.9 5.8 0.6 9.9 0.3" fill="none" stroke="#2f8a35" stroke-width="1.15"/>
<path clip-path="url(#cb5)" d="M332.9 788.9l13 -0.2 8.1 -0.4 5.5 -0.6 3.9 -1 1.6 -0.7 1.3 -0.8 2.1 -2 1.8 -2.8 2.9 -5.6 0.8 -0.9 0.5 -0.2 0.5 0.2 0.8 0.8 3.4 6.4 1.3 1.9 1.3 1.4 1.5 1.1 2.1 1 2.4 0.7 2.9 0.6 5.2 0.5 7.3 0.3 26.1 0.2 27.3 -0.3 8.1 -0.4 6 -0.5 3.7 -0.6 3.1 -0.8 2.6 -1.2 2.1 -1.4 1.6 -1.6 1.3 -1.8 1.5 -2.9 2.9 -6.1 0.8 -1.1 0.8 -0.4 0.8 0.2 0.7 0.9 3.7 7.1 2.1 3 1.3 1.2 1.3 1 1.3 0.7 1.6 0.5 2.6 0.5 2.6 -0.1 2.3 -0.5 2.1 -1 1.3 -1 1.3 -1.4 1.3 -1.9 2.6 -4.6 0.8 -0.9 0.8 -0.3 0.8 0.3 0.8 0.9 2.8 5 1.6 2.2 1.6 1.5 1.8 1.1 2.9 1 3.6 0.5 4.4 0 4.2 -0.7 2.4 -0.6 2.1 -0.8 1.8 -0.9 1.5 -1.1 1.6 -1.3 1.3 -1.5 1.3 -1.9 1.1 -1.9 1.5 -3.7 1.6 -5 1.6 -6.6 3.4 -17.2 1 -3.4 0.5 -0.7 0.3 -0.1 0.2 0.1 0.6 0.8 1 3.5 3.1 16.3 1.6 6.8 1.6 5.1 1.8 4.3 1.3 2.3 1.3 1.8 1.6 1.6 1.5 1.3 1.9 1.1 2 1 2.4 0.8 2.6 0.6" fill="none" stroke="#94e67e" stroke-width="1.15"/>
<path clip-path="url(#cb5)" d="M332.9 788.9l12.3 -0.2 7.8 -0.3 5.5 -0.6 3.9 -1 1.5 -0.7 1.3 -0.7 2.1 -1.9 1.9 -2.6 2.8 -5.6 0.8 -0.9 0.8 -0.3 0.5 0.2 0.8 1 3.7 6.7 1 1.3 1.3 1.3 1.6 1.1 2.1 1 2.3 0.6 2.6 0.5 5.2 0.5 7.3 0.3 25.6 0.2 27.6 -0.3 8.1 -0.3 6 -0.5 3.7 -0.6 3.1 -0.8 2.6 -1.2 2.1 -1.4 1.6 -1.6 1.5 -2.3 4.2 -8.4 0.8 -1 0.8 -0.3 0.8 0.3 0.7 1 3.4 6.7 2.1 3 1.3 1.3 1.3 0.9 1.6 0.8 1.8 0.7 2.6 0.4 2.6 -0.1 2.4 -0.5 2.1 -1 1.3 -1 1.3 -1.3 1.3 -1.8 2.6 -4.3 0.8 -0.8 0.8 -0.3 0.5 0.1 0.8 0.8 3.1 5.2 1.8 2.3 2.1 1.7 2.4 1.1 1.8 0.6 2.1 0.4 5.2 0.4 6.2 -0.2 5.8 -0.7 4.7 -1.2 1.8 -0.7 1.8 -1 1.6 -1.1 1.3 -1.2 1.3 -1.5 1 -1.5 2.1 -4 2.6 -6.4 1.9 -5.7 3.4 -13 1 -2.5 0.5 -0.4 0.3 0 0.8 0.8 0.8 1.9 4.1 17.1 1.3 4.3 1.3 3.5 1.6 3.1 1.8 2.7 1.9 2 2.3 1.7" fill="none" stroke="#ee9c66" stroke-width="1.15"/>
<path clip-path="url(#cb5)" d="M332.9 788.9l12.3 -0.2 7.8 -0.3 5.2 -0.6 3.9 -1 2.6 -1.3 2.1 -1.9 1.8 -2.6 3.2 -5.8 0.8 -0.8 0.5 -0.1 0.5 0.2 0.8 0.9 3.6 6.6 1.1 1.4 1.3 1.2 1.5 1.1 2.1 1 2.4 0.6 2.6 0.5 5.2 0.5 7.3 0.3 25.8 0.2 27.4 -0.3 8.1 -0.3 6 -0.5 3.7 -0.6 3.1 -0.9 2.3 -1 2.1 -1.4 1.6 -1.6 1.3 -1.8 1.3 -2.2 3.1 -6.5 0.8 -1 0.8 -0.4 0.8 0.3 0.8 1 3.4 6.6 1 1.7 1.3 1.6 1.3 1.2 1.3 0.9 1.6 0.8 1.8 0.6 2.6 0.3 2.6 -0.1 2.4 -0.5 2.1 -0.9 1.5 -1.2 1.3 -1.4 3.9 -5.9 0.8 -0.6 0.5 -0.1 0.6 0.1 0.7 0.8 3.2 5 1.8 2.3 2.1 1.7 2.6 1.2 1.8 0.5 2.4 0.4 6 0.4 7.5 -0.1 6.6 -0.7 2.6 -0.5 2.3 -0.7 2.1 -0.8 1.8 -1 2.4 -1.9 6 -6.5 1.5 -2.7 1.3 -3.2 1.6 -5.1 3.1 -11.9 1.1 -2.5 0.5 -0.6 0.3 0 0.2 0 0.5 0.5 1.1 2.4 3.6 13.9 2.1 6.4 1.9 4 1 1.7 1.3 1.8" fill="none" stroke="#d8422e" stroke-width="1.15"/>
<rect x="332.9" y="686.7" width="260.6" height="102.5" fill="none" stroke="#6a6a6a" stroke-width="1"/>
<path d="M343.32 789.2v-1.4M343.32 686.7v1.4M353.75 789.2v-1.4M353.75 686.7v1.4M364.17 789.2v-1.4M364.17 686.7v1.4M374.60 789.2v-1.4M374.60 686.7v1.4M385.02 789.2v-2.4M385.02 686.7v2.4M395.44 789.2v-1.4M395.44 686.7v1.4M405.87 789.2v-1.4M405.87 686.7v1.4M416.29 789.2v-1.4M416.29 686.7v1.4M426.72 789.2v-1.4M426.72 686.7v1.4M437.14 789.2v-2.4M437.14 686.7v2.4M447.56 789.2v-1.4M447.56 686.7v1.4M457.99 789.2v-1.4M457.99 686.7v1.4M468.41 789.2v-1.4M468.41 686.7v1.4M478.84 789.2v-1.4M478.84 686.7v1.4M489.26 789.2v-2.4M489.26 686.7v2.4M499.68 789.2v-1.4M499.68 686.7v1.4M510.11 789.2v-1.4M510.11 686.7v1.4M520.53 789.2v-1.4M520.53 686.7v1.4M530.96 789.2v-1.4M530.96 686.7v1.4M541.38 789.2v-2.4M541.38 686.7v2.4M551.80 789.2v-1.4M551.80 686.7v1.4M562.23 789.2v-1.4M562.23 686.7v1.4M572.65 789.2v-1.4M572.65 686.7v1.4M583.08 789.2v-1.4M583.08 686.7v1.4M332.9 772.12h3M593.5 772.12h-3M332.9 755.03h3M593.5 755.03h-3M332.9 737.95h3M593.5 737.95h-3M332.9 720.87h3M593.5 720.87h-3M332.9 703.78h3M593.5 703.78h-3" stroke="#555" stroke-width="0.9" fill="none"/>
<text x="332.90" y="803.70" font-size="10.8" text-anchor="middle" fill="#222">15</text>
<text x="385.02" y="803.70" font-size="10.8" text-anchor="middle" fill="#222">16</text>
<text x="437.14" y="803.70" font-size="10.8" text-anchor="middle" fill="#222">17</text>
<text x="489.26" y="803.70" font-size="10.8" text-anchor="middle" fill="#222">18</text>
<text x="541.38" y="803.70" font-size="10.8" text-anchor="middle" fill="#222">19</text>
<text x="593.50" y="803.70" font-size="10.8" text-anchor="middle" fill="#222">20</text>
<text x="330.40" y="792.70" font-size="10.5" text-anchor="end" fill="#222">0</text>
<text x="325.70" y="758.33" font-size="9.8" text-anchor="end" textLength="23.38" lengthAdjust="spacingAndGlyphs" fill="#222">1x10</text>
<text x="326.10" y="754.83" font-size="6" textLength="3.60" lengthAdjust="spacingAndGlyphs" fill="#222">4</text>
<text x="325.70" y="724.17" font-size="9.8" text-anchor="end" textLength="23.38" lengthAdjust="spacingAndGlyphs" fill="#222">2x10</text>
<text x="326.10" y="720.67" font-size="6" textLength="3.60" lengthAdjust="spacingAndGlyphs" fill="#222">4</text>
<text x="325.70" y="690.00" font-size="9.8" text-anchor="end" textLength="23.38" lengthAdjust="spacingAndGlyphs" fill="#222">3x10</text>
<text x="326.10" y="686.50" font-size="6" textLength="3.60" lengthAdjust="spacingAndGlyphs" fill="#222">4</text>
<text x="586.00" y="703.30" font-size="11.8" text-anchor="end" font-style="italic" textLength="43.00" lengthAdjust="spacingAndGlyphs" fill="#222">c-needle</text>
<line x1="340.4" y1="695.80" x2="361.4" y2="695.80" stroke="#222222" stroke-width="1.15" stroke-dasharray="2.2 2"/>
<text x="363.70" y="698.40" font-size="7.2" font-weight="bold" textLength="16.11" lengthAdjust="spacingAndGlyphs" fill="#222">1:1:1</text>
<line x1="340.4" y1="703.65" x2="361.4" y2="703.65" stroke="#2f8a35" stroke-width="1.15"/>
<text x="363.70" y="706.25" font-size="7.2" font-weight="bold" textLength="16.11" lengthAdjust="spacingAndGlyphs" fill="#3a8a3a">1:1:2</text>
<line x1="340.4" y1="711.50" x2="361.4" y2="711.50" stroke="#94e67e" stroke-width="1.15"/>
<text x="363.70" y="714.10" font-size="7.2" font-weight="bold" textLength="16.11" lengthAdjust="spacingAndGlyphs" fill="#88dc6a">1:1:5</text>
<line x1="340.4" y1="719.35" x2="361.4" y2="719.35" stroke="#ee9c66" stroke-width="1.15"/>
<text x="363.70" y="721.95" font-size="7.2" font-weight="bold" textLength="19.95" lengthAdjust="spacingAndGlyphs" fill="#e39d6e">1:1:10</text>
<line x1="340.4" y1="727.20" x2="361.4" y2="727.20" stroke="#d8422e" stroke-width="1.15"/>
<text x="363.70" y="729.80" font-size="7.2" font-weight="bold" textLength="19.95" lengthAdjust="spacingAndGlyphs" fill="#d24652">1:1:50</text>
<line x1="340.4" y1="735.05" x2="361.4" y2="735.05" stroke="#9a9a9a" stroke-width="1.15"/>
<text x="363.70" y="737.65" font-size="7.2" textLength="21.67" lengthAdjust="spacingAndGlyphs" fill="#9c9c9c">CDEx5</text>
<line x1="340.4" y1="742.90" x2="361.4" y2="742.90" stroke="#b0b0b0" stroke-width="1.15" stroke-dasharray="6 4"/>
<text x="363.70" y="745.50" font-size="7.2" textLength="25.47" lengthAdjust="spacingAndGlyphs" fill="#a8a8a8">CDE2x5</text>
<text x="48.30" y="416.00" font-size="11.4" font-weight="bold" textLength="169.70" lengthAdjust="spacingAndGlyphs" fill="#111">Mass Absorption Coefficient (cm</text>
<text x="218.30" y="410.20" font-size="7.5" font-weight="bold" textLength="3.80" lengthAdjust="spacingAndGlyphs" fill="#111">2</text>
<text x="222.00" y="416.00" font-size="11.4" font-weight="bold" textLength="14.60" lengthAdjust="spacingAndGlyphs" fill="#111">/g)</text>
<text x="107.30" y="816.70" font-size="15" textLength="100.00" lengthAdjust="spacingAndGlyphs" fill="#222">wavelength (μm)</text>
<text x="411.50" y="816.70" font-size="15" textLength="100.50" lengthAdjust="spacingAndGlyphs" fill="#222">wavelength (μm)</text>
<text x="312.00" y="816.00" font-size="9" text-anchor="middle" fill="#222">(b)</text>
</svg></body></html>
